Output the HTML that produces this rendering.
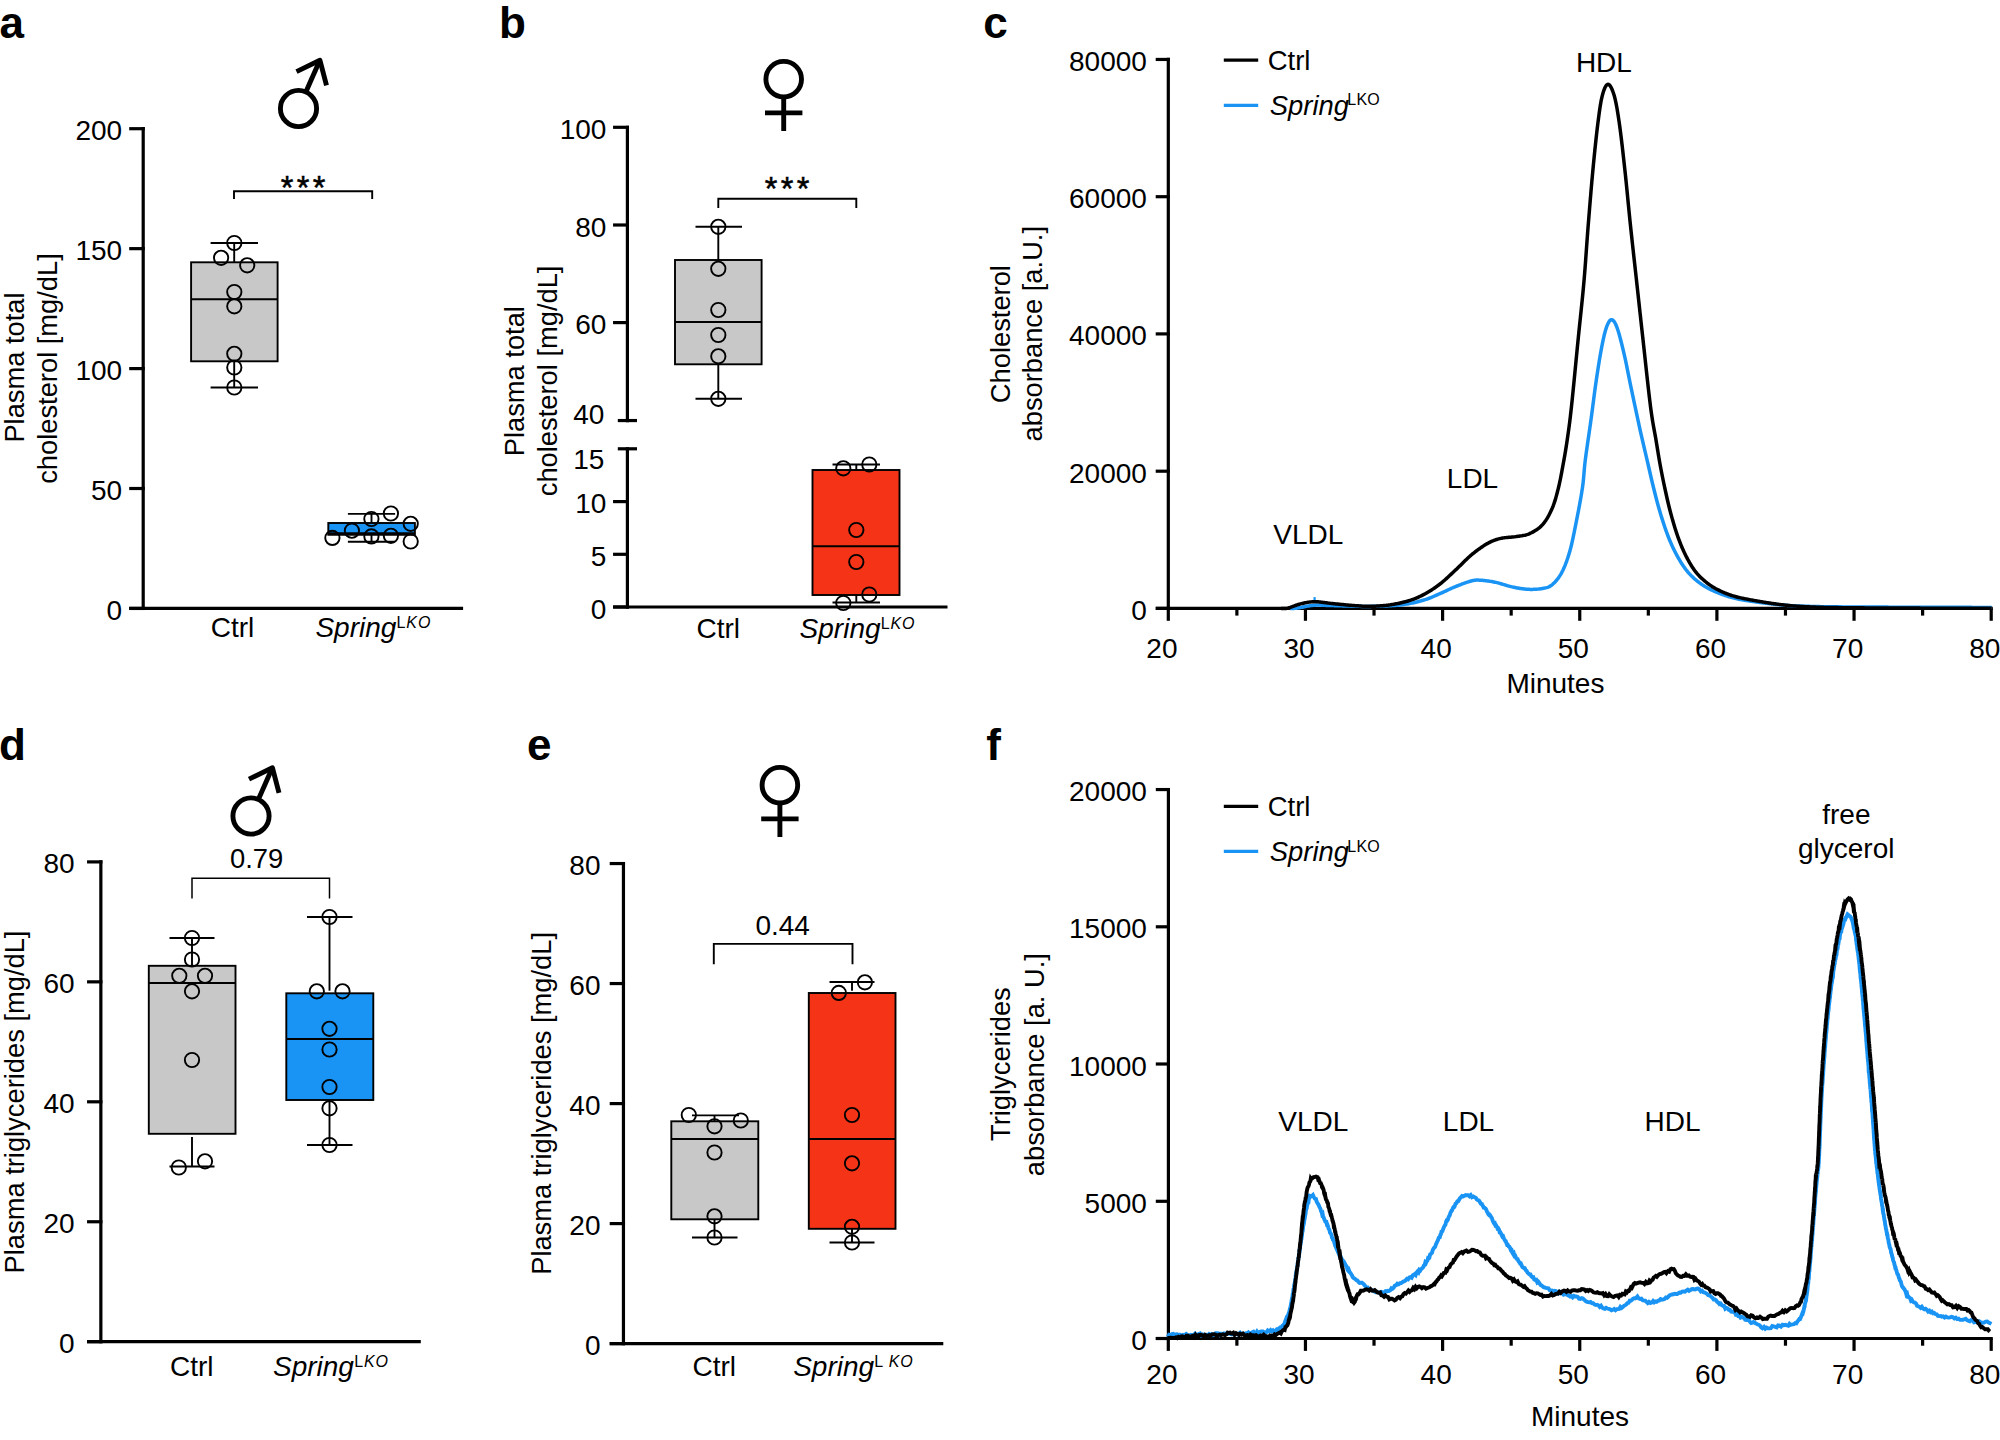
<!DOCTYPE html>
<html lang="en">
<head>
<meta charset="utf-8">
<title>Plasma lipids in Ctrl and Spring LKO mice</title>
<style>
html,body{margin:0;padding:0;background:#fff;}
body{width:2000px;height:1440px;overflow:hidden;}
svg{display:block;}
svg text{font-family:"Liberation Sans",sans-serif;fill:#000;}
</style>
</head>
<body>
<svg width="2000" height="1440" viewBox="0 0 2000 1440">
<rect x="0" y="0" width="2000" height="1440" fill="#fff"/>
<text x="-0.4" y="37.9" font-size="44" text-anchor="start" font-weight="bold">a</text>
<g fill="none" stroke="#000" stroke-width="4.9">
<circle cx="298.5" cy="108.5" r="18.1"/>
<path d="M305.85 91.9 L319.3 61.5"/>
<path d="M296.5 71.6 L319.9 60.2 L326.5 85.4" stroke-linejoin="round"/>
</g>
<line x1="143.2" y1="127.1" x2="143.2" y2="610.05" stroke="#000" stroke-width="3.2" stroke-linecap="butt"/>
<line x1="129.2" y1="128.7" x2="144.8" y2="128.7" stroke="#000" stroke-width="3.2" stroke-linecap="butt"/>
<text x="122.1" y="140.2" font-size="28" text-anchor="end">200</text>
<line x1="129.2" y1="248.65" x2="144.8" y2="248.65" stroke="#000" stroke-width="3.2" stroke-linecap="butt"/>
<text x="122.1" y="260.15" font-size="28" text-anchor="end">150</text>
<line x1="129.2" y1="368.6" x2="144.8" y2="368.6" stroke="#000" stroke-width="3.2" stroke-linecap="butt"/>
<text x="122.1" y="380.1" font-size="28" text-anchor="end">100</text>
<line x1="129.2" y1="488.5" x2="144.8" y2="488.5" stroke="#000" stroke-width="3.2" stroke-linecap="butt"/>
<text x="122.1" y="500" font-size="28" text-anchor="end">50</text>
<line x1="129.2" y1="608.45" x2="144.8" y2="608.45" stroke="#000" stroke-width="3.2" stroke-linecap="butt"/>
<text x="122.1" y="619.95" font-size="28" text-anchor="end">0</text>
<line x1="129.2" y1="608.45" x2="463.1" y2="608.45" stroke="#000" stroke-width="3.2" stroke-linecap="butt"/>
<text x="24" y="367.5" font-size="27.3" text-anchor="middle" transform="rotate(-90 24 367.5)">Plasma total</text>
<text x="57.2" y="368.5" font-size="27.3" text-anchor="middle" transform="rotate(-90 57.2 368.5)">cholesterol [mg/dL]</text>
<path d="M234 199 V191.3 H372.2 V199" fill="none" stroke="#000" stroke-width="1.9"/>
<text x="304.7" y="198.9" font-size="32.5" text-anchor="middle" letter-spacing="3.25" stroke="#000" stroke-width="0.5">***</text>
<line x1="234.2" y1="243" x2="234.2" y2="262.3" stroke="#000" stroke-width="1.9" stroke-linecap="butt"/>
<line x1="234.2" y1="361.3" x2="234.2" y2="387.5" stroke="#000" stroke-width="1.9" stroke-linecap="butt"/>
<line x1="210.6" y1="243" x2="258" y2="243" stroke="#000" stroke-width="1.9" stroke-linecap="butt"/>
<line x1="210.6" y1="387.5" x2="258" y2="387.5" stroke="#000" stroke-width="1.9" stroke-linecap="butt"/>
<rect x="191.1" y="262.3" width="86.5" height="99" fill="#c8c8c8" stroke="#000" stroke-width="1.9"/>
<line x1="191.1" y1="299.3" x2="277.6" y2="299.3" stroke="#000" stroke-width="1.9" stroke-linecap="butt"/>
<circle cx="234.3" cy="243" r="7.15" fill="none" stroke="#000" stroke-width="1.9"/>
<circle cx="221.1" cy="257.8" r="7.15" fill="none" stroke="#000" stroke-width="1.9"/>
<circle cx="247.2" cy="265.3" r="7.15" fill="none" stroke="#000" stroke-width="1.9"/>
<circle cx="234.3" cy="292" r="7.15" fill="none" stroke="#000" stroke-width="1.9"/>
<circle cx="234.3" cy="306.3" r="7.15" fill="none" stroke="#000" stroke-width="1.9"/>
<circle cx="234.3" cy="353.8" r="7.15" fill="none" stroke="#000" stroke-width="1.9"/>
<circle cx="234.3" cy="367.5" r="7.15" fill="none" stroke="#000" stroke-width="1.9"/>
<circle cx="234.3" cy="387.5" r="7.15" fill="none" stroke="#000" stroke-width="1.9"/>
<line x1="371.5" y1="513.9" x2="371.5" y2="523" stroke="#000" stroke-width="1.9" stroke-linecap="butt"/>
<line x1="371.5" y1="534.8" x2="371.5" y2="541.8" stroke="#000" stroke-width="1.9" stroke-linecap="butt"/>
<line x1="347.9" y1="513.9" x2="395.1" y2="513.9" stroke="#000" stroke-width="1.9" stroke-linecap="butt"/>
<line x1="347.9" y1="541.8" x2="395.1" y2="541.8" stroke="#000" stroke-width="1.9" stroke-linecap="butt"/>
<rect x="328.3" y="523" width="86.6" height="11.8" fill="#1994f4" stroke="#000" stroke-width="1.9"/>
<line x1="328.3" y1="533.2" x2="414.9" y2="533.2" stroke="#000" stroke-width="1.9" stroke-linecap="butt"/>
<circle cx="390.9" cy="513.5" r="7.15" fill="none" stroke="#000" stroke-width="1.9"/>
<circle cx="371.4" cy="519" r="7.15" fill="none" stroke="#000" stroke-width="1.9"/>
<circle cx="410.7" cy="523.8" r="7.15" fill="none" stroke="#000" stroke-width="1.9"/>
<circle cx="351.9" cy="530.7" r="7.15" fill="none" stroke="#000" stroke-width="1.9"/>
<circle cx="332.4" cy="537.9" r="7.15" fill="none" stroke="#000" stroke-width="1.9"/>
<circle cx="371.4" cy="536.4" r="7.15" fill="none" stroke="#000" stroke-width="1.9"/>
<circle cx="390.9" cy="535.8" r="7.15" fill="none" stroke="#000" stroke-width="1.9"/>
<circle cx="410.7" cy="541.5" r="7.15" fill="none" stroke="#000" stroke-width="1.9"/>
<text x="232.5" y="636.8" font-size="28" text-anchor="middle">Ctrl</text>
<text x="315.4" y="636.8" font-size="28" text-anchor="start"><tspan font-style="italic">Spring</tspan><tspan font-size="16" dy="-9.1" dx="0.2" letter-spacing="0.9">L</tspan><tspan font-size="16" font-style="italic" letter-spacing="0.9">KO</tspan></text>
<text x="499.1" y="37.9" font-size="44" text-anchor="start" font-weight="bold">b</text>
<g fill="none" stroke="#000" stroke-width="4.9">
<circle cx="783.7" cy="79.2" r="17.8"/>
<path d="M783.7 97 V131"/>
<path d="M765 112.9 H802.4"/>
</g>
<line x1="627.4" y1="125.7" x2="627.4" y2="422.15" stroke="#000" stroke-width="3.2" stroke-linecap="butt"/>
<line x1="613.05" y1="127.3" x2="629" y2="127.3" stroke="#000" stroke-width="3.2" stroke-linecap="butt"/>
<text x="606.4" y="138.8" font-size="28" text-anchor="end">100</text>
<line x1="613.05" y1="225" x2="629" y2="225" stroke="#000" stroke-width="3.2" stroke-linecap="butt"/>
<text x="606.4" y="236.5" font-size="28" text-anchor="end">80</text>
<line x1="613.05" y1="322.6" x2="629" y2="322.6" stroke="#000" stroke-width="3.2" stroke-linecap="butt"/>
<text x="606.4" y="334.1" font-size="28" text-anchor="end">60</text>
<line x1="617.8" y1="420.55" x2="637" y2="420.55" stroke="#000" stroke-width="3.2" stroke-linecap="butt"/>
<text x="604.4" y="423.9" font-size="28" text-anchor="end">40</text>
<line x1="627.4" y1="447.2" x2="627.4" y2="608.6" stroke="#000" stroke-width="3.2" stroke-linecap="butt"/>
<line x1="617.8" y1="448.8" x2="637" y2="448.8" stroke="#000" stroke-width="3.2" stroke-linecap="butt"/>
<text x="604.4" y="468.9" font-size="28" text-anchor="end">15</text>
<line x1="613.05" y1="501.6" x2="629" y2="501.6" stroke="#000" stroke-width="3.2" stroke-linecap="butt"/>
<text x="606.4" y="513.1" font-size="28" text-anchor="end">10</text>
<line x1="613.05" y1="554.3" x2="629" y2="554.3" stroke="#000" stroke-width="3.2" stroke-linecap="butt"/>
<text x="606.4" y="565.8" font-size="28" text-anchor="end">5</text>
<line x1="613.05" y1="607" x2="629" y2="607" stroke="#000" stroke-width="3.2" stroke-linecap="butt"/>
<text x="606.4" y="618.5" font-size="28" text-anchor="end">0</text>
<line x1="613.05" y1="607" x2="947.5" y2="607" stroke="#000" stroke-width="3.2" stroke-linecap="butt"/>
<text x="523.9" y="381.2" font-size="27.3" text-anchor="middle" transform="rotate(-90 523.9 381.2)">Plasma total</text>
<text x="557.5" y="380.9" font-size="27.3" text-anchor="middle" transform="rotate(-90 557.5 380.9)">cholesterol [mg/dL]</text>
<path d="M718.3 208 V198.8 H856.3 V208" fill="none" stroke="#000" stroke-width="1.9"/>
<text x="788.7" y="200.1" font-size="32.5" text-anchor="middle" letter-spacing="3.25" stroke="#000" stroke-width="0.5">***</text>
<line x1="718.3" y1="226.8" x2="718.3" y2="260" stroke="#000" stroke-width="1.9" stroke-linecap="butt"/>
<line x1="718.3" y1="364.3" x2="718.3" y2="398.8" stroke="#000" stroke-width="1.9" stroke-linecap="butt"/>
<line x1="695.5" y1="226.8" x2="742" y2="226.8" stroke="#000" stroke-width="1.9" stroke-linecap="butt"/>
<line x1="695.5" y1="398.8" x2="742" y2="398.8" stroke="#000" stroke-width="1.9" stroke-linecap="butt"/>
<rect x="675" y="260" width="86.6" height="104.3" fill="#c8c8c8" stroke="#000" stroke-width="1.9"/>
<line x1="675" y1="322" x2="761.6" y2="322" stroke="#000" stroke-width="1.9" stroke-linecap="butt"/>
<circle cx="718.3" cy="226.8" r="7.15" fill="none" stroke="#000" stroke-width="1.9"/>
<circle cx="718.3" cy="268.8" r="7.15" fill="none" stroke="#000" stroke-width="1.9"/>
<circle cx="718.3" cy="310" r="7.15" fill="none" stroke="#000" stroke-width="1.9"/>
<circle cx="718.3" cy="335" r="7.15" fill="none" stroke="#000" stroke-width="1.9"/>
<circle cx="718.3" cy="356.3" r="7.15" fill="none" stroke="#000" stroke-width="1.9"/>
<circle cx="718.3" cy="398.8" r="7.15" fill="none" stroke="#000" stroke-width="1.9"/>
<line x1="856.3" y1="464.5" x2="856.3" y2="470" stroke="#000" stroke-width="1.9" stroke-linecap="butt"/>
<line x1="856.3" y1="595" x2="856.3" y2="602.5" stroke="#000" stroke-width="1.9" stroke-linecap="butt"/>
<line x1="832.5" y1="464.5" x2="880" y2="464.5" stroke="#000" stroke-width="1.9" stroke-linecap="butt"/>
<line x1="832.5" y1="602.5" x2="880" y2="602.5" stroke="#000" stroke-width="1.9" stroke-linecap="butt"/>
<rect x="812.5" y="470" width="87" height="125" fill="#f53317" stroke="#000" stroke-width="1.9"/>
<line x1="812.5" y1="546.3" x2="899.5" y2="546.3" stroke="#000" stroke-width="1.9" stroke-linecap="butt"/>
<circle cx="843.3" cy="468.3" r="7.15" fill="none" stroke="#000" stroke-width="1.9"/>
<circle cx="869.3" cy="464.5" r="7.15" fill="none" stroke="#000" stroke-width="1.9"/>
<circle cx="856.3" cy="530" r="7.15" fill="none" stroke="#000" stroke-width="1.9"/>
<circle cx="856.3" cy="562" r="7.15" fill="none" stroke="#000" stroke-width="1.9"/>
<circle cx="869.3" cy="594.5" r="7.15" fill="none" stroke="#000" stroke-width="1.9"/>
<circle cx="843.3" cy="603" r="7.15" fill="none" stroke="#000" stroke-width="1.9"/>
<text x="718.3" y="637.8" font-size="28" text-anchor="middle">Ctrl</text>
<text x="799.6" y="637.8" font-size="28" text-anchor="start"><tspan font-style="italic">Spring</tspan><tspan font-size="16" dy="-9.1" dx="0.2" letter-spacing="0.9">L</tspan><tspan font-size="16" font-style="italic" letter-spacing="0.9">KO</tspan></text>
<text x="983.3" y="37.9" font-size="44" text-anchor="start" font-weight="bold">c</text>
<line x1="1168.3" y1="57.85" x2="1168.3" y2="610" stroke="#000" stroke-width="3.2" stroke-linecap="butt"/>
<line x1="1155.7" y1="59.45" x2="1169.9" y2="59.45" stroke="#000" stroke-width="3.2" stroke-linecap="butt"/>
<text x="1146.9" y="70.95" font-size="28" text-anchor="end">80000</text>
<line x1="1155.7" y1="196.7" x2="1169.9" y2="196.7" stroke="#000" stroke-width="3.2" stroke-linecap="butt"/>
<text x="1146.9" y="208.2" font-size="28" text-anchor="end">60000</text>
<line x1="1155.7" y1="333.9" x2="1169.9" y2="333.9" stroke="#000" stroke-width="3.2" stroke-linecap="butt"/>
<text x="1146.9" y="345.4" font-size="28" text-anchor="end">40000</text>
<line x1="1155.7" y1="471.2" x2="1169.9" y2="471.2" stroke="#000" stroke-width="3.2" stroke-linecap="butt"/>
<text x="1146.9" y="482.7" font-size="28" text-anchor="end">20000</text>
<line x1="1155.7" y1="608.4" x2="1169.9" y2="608.4" stroke="#000" stroke-width="3.2" stroke-linecap="butt"/>
<text x="1146.9" y="619.9" font-size="28" text-anchor="end">0</text>
<line x1="1155.8" y1="608.4" x2="1992.8" y2="608.4" stroke="#000" stroke-width="3.2" stroke-linecap="butt"/>
<line x1="1168.3" y1="608.4" x2="1168.3" y2="620.8" stroke="#000" stroke-width="3.2" stroke-linecap="butt"/>
<line x1="1236.88" y1="608.4" x2="1236.88" y2="615.6" stroke="#000" stroke-width="3.2" stroke-linecap="butt"/>
<line x1="1305.45" y1="608.4" x2="1305.45" y2="620.8" stroke="#000" stroke-width="3.2" stroke-linecap="butt"/>
<line x1="1374.02" y1="608.4" x2="1374.02" y2="615.6" stroke="#000" stroke-width="3.2" stroke-linecap="butt"/>
<line x1="1442.6" y1="608.4" x2="1442.6" y2="620.8" stroke="#000" stroke-width="3.2" stroke-linecap="butt"/>
<line x1="1511.17" y1="608.4" x2="1511.17" y2="615.6" stroke="#000" stroke-width="3.2" stroke-linecap="butt"/>
<line x1="1579.75" y1="608.4" x2="1579.75" y2="620.8" stroke="#000" stroke-width="3.2" stroke-linecap="butt"/>
<line x1="1648.32" y1="608.4" x2="1648.32" y2="615.6" stroke="#000" stroke-width="3.2" stroke-linecap="butt"/>
<line x1="1716.9" y1="608.4" x2="1716.9" y2="620.8" stroke="#000" stroke-width="3.2" stroke-linecap="butt"/>
<line x1="1785.47" y1="608.4" x2="1785.47" y2="615.6" stroke="#000" stroke-width="3.2" stroke-linecap="butt"/>
<line x1="1854.05" y1="608.4" x2="1854.05" y2="620.8" stroke="#000" stroke-width="3.2" stroke-linecap="butt"/>
<line x1="1922.62" y1="608.4" x2="1922.62" y2="615.6" stroke="#000" stroke-width="3.2" stroke-linecap="butt"/>
<line x1="1991.2" y1="608.4" x2="1991.2" y2="620.8" stroke="#000" stroke-width="3.2" stroke-linecap="butt"/>
<polyline points="1290,608.5 1290.7,608.49 1291.69,608.49 1292.84,608.46 1294,608.4 1294.77,608.34 1295.43,608.29 1296.2,608.21 1297.32,608.06 1299,607.8 1299.72,607.68 1300.51,607.53 1301.37,607.36 1302.28,607.17 1303.25,606.97 1304.27,606.76 1305.32,606.55 1306.41,606.33 1307.52,606.12 1308.66,605.92 1309.81,605.73 1310.96,605.56 1312.12,605.41 1313.26,605.29 1314.4,605.2 1315.32,605.15 1316.21,605.11 1317.08,605.09 1317.93,605.08 1318.78,605.08 1319.63,605.1 1320.49,605.12 1321.36,605.15 1322.26,605.19 1323.2,605.23 1324.17,605.28 1325.19,605.33 1326.27,605.38 1327.42,605.43 1328.63,605.48 1329.93,605.52 1331.32,605.56 1332.8,605.6 1333.58,605.62 1334.4,605.64 1335.24,605.66 1336.11,605.68 1337,605.71 1337.92,605.74 1338.87,605.77 1339.83,605.8 1340.82,605.83 1341.82,605.86 1342.84,605.89 1343.88,605.93 1344.93,605.96 1346,605.99 1347.07,606.03 1348.16,606.06 1349.25,606.09 1350.35,606.12 1351.46,606.16 1352.56,606.19 1353.68,606.22 1354.79,606.24 1355.9,606.27 1357.01,606.3 1358.11,606.32 1359.21,606.34 1360.31,606.36 1361.39,606.38 1362.47,606.39 1363.53,606.4 1364.58,606.41 1365.62,606.41 1366.64,606.42 1367.65,606.41 1368.63,606.41 1369.6,606.4 1370.67,606.39 1371.75,606.37 1372.82,606.36 1373.9,606.34 1374.97,606.32 1376.03,606.29 1377.1,606.27 1378.16,606.24 1379.22,606.22 1380.28,606.18 1381.33,606.15 1382.37,606.12 1383.41,606.08 1384.45,606.04 1385.48,606 1386.5,605.95 1387.52,605.9 1388.52,605.85 1389.52,605.8 1390.51,605.74 1391.5,605.68 1392.47,605.62 1393.43,605.55 1394.39,605.48 1395.33,605.41 1396.26,605.33 1397.18,605.25 1398.09,605.17 1398.99,605.08 1399.87,604.99 1400.74,604.9 1401.6,604.8 1402.82,604.65 1404.02,604.49 1405.19,604.32 1406.34,604.14 1407.47,603.96 1408.57,603.76 1409.66,603.56 1410.72,603.36 1411.77,603.14 1412.79,602.92 1413.8,602.7 1414.79,602.47 1415.77,602.24 1416.73,602 1417.68,601.76 1418.61,601.51 1419.53,601.26 1420.45,601.01 1421.35,600.76 1422.24,600.51 1423.12,600.25 1424,600 1425.11,599.67 1426.18,599.33 1427.21,598.98 1428.21,598.62 1429.17,598.26 1430.12,597.89 1431.04,597.52 1431.95,597.14 1432.85,596.76 1433.73,596.37 1434.61,595.98 1435.49,595.59 1436.37,595.19 1437.26,594.8 1438.16,594.4 1439.07,594 1440,593.6 1440.94,593.19 1441.88,592.78 1442.82,592.36 1443.76,591.93 1444.71,591.49 1445.65,591.05 1446.59,590.61 1447.53,590.17 1448.47,589.73 1449.41,589.29 1450.35,588.86 1451.29,588.42 1452.24,588 1453.18,587.59 1454.12,587.18 1455.06,586.78 1456,586.4 1457.01,586 1458.04,585.59 1459.09,585.18 1460.15,584.77 1461.21,584.36 1462.28,583.96 1463.34,583.56 1464.4,583.18 1465.44,582.81 1466.47,582.46 1467.47,582.12 1468.45,581.8 1469.4,581.51 1470.31,581.25 1471.18,581.01 1472,580.8 1473.32,580.51 1474.47,580.3 1475.5,580.16 1476.44,580.09 1477.36,580.06 1478.28,580.09 1479.27,580.14 1480.36,580.21 1481.6,580.3 1482.48,580.36 1483.39,580.44 1484.34,580.53 1485.32,580.64 1486.32,580.76 1487.35,580.89 1488.4,581.04 1489.46,581.2 1490.54,581.37 1491.63,581.55 1492.72,581.74 1493.82,581.95 1494.91,582.17 1496,582.4 1496.96,582.62 1497.92,582.86 1498.9,583.13 1499.89,583.41 1500.88,583.7 1501.88,584 1502.89,584.32 1503.9,584.63 1504.91,584.95 1505.93,585.26 1506.95,585.57 1507.96,585.87 1508.98,586.15 1509.99,586.42 1511,586.67 1512,586.9 1513,587.11 1514.01,587.32 1515.02,587.53 1516.04,587.72 1517.05,587.91 1518.07,588.09 1519.09,588.27 1520.1,588.43 1521.11,588.58 1522.12,588.73 1523.12,588.86 1524.11,588.97 1525.1,589.08 1526.08,589.17 1527.04,589.24 1528,589.3 1529.09,589.35 1530.18,589.38 1531.28,589.39 1532.37,589.39 1533.46,589.37 1534.54,589.33 1535.6,589.28 1536.65,589.21 1537.68,589.13 1538.68,589.03 1539.66,588.92 1540.61,588.79 1541.52,588.65 1542.4,588.5 1543.55,588.28 1544.63,588.08 1545.63,587.86 1546.59,587.63 1547.5,587.35 1548.39,587.02 1549.27,586.61 1550.16,586.12 1551.06,585.52 1552,584.8 1552.64,584.26 1553.29,583.68 1553.95,583.07 1554.6,582.42 1555.26,581.74 1555.92,581.02 1556.57,580.26 1557.23,579.47 1557.88,578.63 1558.52,577.76 1559.15,576.85 1559.78,575.9 1560.4,574.9 1561.01,573.87 1561.6,572.8 1562,572.04 1562.39,571.27 1562.79,570.48 1563.17,569.66 1563.56,568.83 1563.94,567.98 1564.32,567.11 1564.69,566.22 1565.07,565.31 1565.43,564.39 1565.8,563.45 1566.16,562.49 1566.52,561.52 1566.88,560.52 1567.23,559.51 1567.58,558.49 1567.92,557.45 1568.26,556.39 1568.6,555.31 1568.94,554.22 1569.27,553.12 1569.6,552 1569.85,551.14 1570.09,550.27 1570.33,549.38 1570.56,548.49 1570.8,547.59 1571.03,546.67 1571.26,545.75 1571.48,544.81 1571.7,543.87 1571.93,542.91 1572.14,541.95 1572.36,540.97 1572.58,539.99 1572.79,539 1573.01,538 1573.22,536.99 1573.43,535.97 1573.64,534.95 1573.86,533.92 1574.07,532.88 1574.28,531.83 1574.49,530.77 1574.7,529.71 1574.92,528.64 1575.13,527.57 1575.35,526.48 1575.56,525.4 1575.78,524.3 1576,523.2 1576.18,522.28 1576.37,521.34 1576.56,520.39 1576.75,519.42 1576.94,518.44 1577.14,517.45 1577.34,516.45 1577.53,515.44 1577.73,514.43 1577.93,513.4 1578.13,512.37 1578.33,511.33 1578.53,510.28 1578.73,509.24 1578.93,508.18 1579.12,507.13 1579.32,506.08 1579.52,505.02 1579.71,503.97 1579.9,502.92 1580.09,501.87 1580.28,500.82 1580.46,499.78 1580.65,498.75 1580.83,497.72 1581,496.7 1581.18,495.69 1581.34,494.68 1581.51,493.69 1581.67,492.71 1581.83,491.74 1581.98,490.78 1582.12,489.84 1582.26,488.91 1582.4,488 1582.56,486.89 1582.71,485.8 1582.85,484.75 1582.98,483.72 1583.09,482.71 1583.21,481.72 1583.31,480.75 1583.41,479.79 1583.5,478.85 1583.59,477.92 1583.67,476.99 1583.75,476.07 1583.83,475.15 1583.91,474.23 1583.98,473.31 1584.06,472.38 1584.14,471.45 1584.22,470.51 1584.3,469.55 1584.38,468.58 1584.47,467.6 1584.57,466.59 1584.67,465.56 1584.78,464.51 1584.9,463.43 1585.02,462.32 1585.16,461.18 1585.3,460 1585.41,459.14 1585.52,458.26 1585.64,457.37 1585.76,456.47 1585.88,455.56 1586,454.64 1586.13,453.71 1586.26,452.77 1586.39,451.82 1586.52,450.87 1586.66,449.9 1586.8,448.93 1586.94,447.94 1587.08,446.96 1587.22,445.96 1587.37,444.96 1587.51,443.95 1587.66,442.94 1587.81,441.92 1587.96,440.89 1588.11,439.87 1588.26,438.83 1588.41,437.8 1588.56,436.76 1588.71,435.72 1588.86,434.68 1589.02,433.63 1589.17,432.59 1589.32,431.54 1589.47,430.49 1589.62,429.44 1589.77,428.4 1589.92,427.35 1590.07,426.3 1590.22,425.26 1590.37,424.21 1590.51,423.17 1590.66,422.14 1590.8,421.1 1590.93,420.14 1591.06,419.17 1591.2,418.19 1591.33,417.2 1591.46,416.21 1591.6,415.22 1591.73,414.21 1591.86,413.21 1592,412.2 1592.13,411.18 1592.26,410.17 1592.4,409.14 1592.53,408.12 1592.66,407.1 1592.8,406.07 1592.93,405.04 1593.06,404.01 1593.2,402.98 1593.33,401.95 1593.47,400.93 1593.6,399.9 1593.73,398.87 1593.87,397.85 1594,396.83 1594.14,395.81 1594.27,394.8 1594.4,393.79 1594.54,392.78 1594.67,391.78 1594.8,390.78 1594.94,389.79 1595.07,388.81 1595.2,387.83 1595.34,386.86 1595.47,385.9 1595.6,384.94 1595.74,383.99 1595.87,383.06 1596,382.13 1596.14,381.21 1596.27,380.3 1596.4,379.4 1596.57,378.27 1596.74,377.13 1596.91,376 1597.08,374.88 1597.25,373.76 1597.42,372.65 1597.59,371.54 1597.76,370.43 1597.93,369.34 1598.1,368.25 1598.27,367.16 1598.44,366.09 1598.61,365.02 1598.78,363.96 1598.95,362.91 1599.12,361.87 1599.28,360.84 1599.45,359.82 1599.62,358.81 1599.79,357.82 1599.96,356.83 1600.12,355.86 1600.29,354.9 1600.45,353.95 1600.62,353.02 1600.78,352.1 1600.94,351.2 1601.11,350.31 1601.27,349.43 1601.43,348.57 1601.59,347.73 1601.74,346.91 1601.9,346.1 1602.17,344.73 1602.43,343.41 1602.69,342.13 1602.95,340.89 1603.21,339.69 1603.46,338.52 1603.71,337.4 1603.96,336.31 1604.21,335.27 1604.45,334.26 1604.7,333.28 1604.95,332.34 1605.19,331.44 1605.44,330.56 1605.69,329.73 1605.94,328.92 1606.19,328.15 1606.44,327.41 1606.7,326.7 1607.31,325.13 1607.92,323.72 1608.54,322.49 1609.16,321.46 1609.78,320.65 1610.41,320.08 1611.05,319.75 1611.7,319.7 1612.22,319.84 1612.74,320.11 1613.27,320.52 1613.79,321.09 1614.33,321.82 1614.87,322.71 1615.42,323.78 1616,325.03 1616.59,326.47 1617.2,328.1 1617.43,328.76 1617.67,329.46 1617.91,330.2 1618.16,330.97 1618.41,331.77 1618.66,332.6 1618.91,333.47 1619.17,334.36 1619.43,335.28 1619.69,336.22 1619.95,337.19 1620.21,338.17 1620.48,339.18 1620.75,340.2 1621.01,341.24 1621.28,342.3 1621.55,343.37 1621.82,344.44 1622.09,345.53 1622.35,346.63 1622.62,347.73 1622.89,348.84 1623.15,349.95 1623.42,351.07 1623.68,352.18 1623.94,353.29 1624.2,354.4 1624.4,355.28 1624.61,356.17 1624.81,357.07 1625.01,357.97 1625.21,358.88 1625.41,359.8 1625.6,360.72 1625.8,361.65 1626,362.59 1626.19,363.54 1626.39,364.49 1626.59,365.44 1626.78,366.4 1626.98,367.37 1627.17,368.35 1627.37,369.33 1627.57,370.31 1627.77,371.3 1627.96,372.3 1628.16,373.3 1628.36,374.31 1628.57,375.32 1628.77,376.34 1628.97,377.36 1629.18,378.38 1629.38,379.41 1629.59,380.45 1629.8,381.49 1630.01,382.53 1630.22,383.58 1630.44,384.63 1630.66,385.68 1630.88,386.74 1631.1,387.8 1631.3,388.74 1631.5,389.7 1631.71,390.68 1631.92,391.68 1632.13,392.7 1632.35,393.74 1632.58,394.79 1632.8,395.85 1633.03,396.93 1633.26,398.01 1633.49,399.1 1633.72,400.2 1633.96,401.31 1634.2,402.42 1634.43,403.53 1634.67,404.64 1634.9,405.75 1635.14,406.85 1635.38,407.96 1635.61,409.05 1635.84,410.14 1636.07,411.22 1636.3,412.29 1636.53,413.35 1636.75,414.4 1636.97,415.43 1637.19,416.44 1637.4,417.43 1637.61,418.41 1637.82,419.36 1638.02,420.29 1638.21,421.19 1638.4,422.07 1638.58,422.92 1638.76,423.74 1638.93,424.53 1639.09,425.29 1639.25,426.01 1639.4,426.7 1639.8,428.53 1640.13,430.05 1640.4,431.3 1640.63,432.33 1640.82,433.19 1640.99,433.94 1641.15,434.61 1641.3,435.27 1641.46,435.96 1641.64,436.72 1641.85,437.62 1642.1,438.7 1642.4,440 1642.58,440.8 1642.78,441.63 1642.98,442.49 1643.18,443.38 1643.4,444.3 1643.62,445.25 1643.84,446.22 1644.07,447.21 1644.31,448.22 1644.55,449.24 1644.79,450.28 1645.04,451.33 1645.29,452.39 1645.54,453.46 1645.79,454.53 1646.04,455.6 1646.29,456.68 1646.54,457.75 1646.79,458.82 1647.04,459.88 1647.28,460.93 1647.53,461.97 1647.76,462.99 1648,464 1648.23,465 1648.46,466 1648.69,467 1648.92,468 1649.15,469 1649.38,470 1649.61,471 1649.84,472 1650.06,473 1650.29,474 1650.52,475 1650.75,476 1650.98,477 1651.21,478 1651.44,479 1651.67,480 1651.91,481 1652.14,482 1652.38,483 1652.62,484 1652.86,485 1653.11,486 1653.35,487 1653.6,488 1653.85,489 1654.1,490 1654.35,491 1654.6,492 1654.85,493 1655.11,494 1655.36,495 1655.61,496 1655.87,497 1656.13,498 1656.39,499 1656.65,500 1656.91,501 1657.18,502 1657.45,503 1657.72,504 1657.99,505 1658.27,506 1658.55,507 1658.83,508 1659.12,509 1659.41,510 1659.7,511 1660,512 1660.29,512.96 1660.58,513.93 1660.88,514.91 1661.18,515.89 1661.48,516.88 1661.79,517.87 1662.1,518.86 1662.41,519.85 1662.73,520.84 1663.05,521.83 1663.37,522.82 1663.69,523.81 1664.01,524.79 1664.34,525.77 1664.67,526.75 1664.99,527.71 1665.33,528.68 1665.66,529.63 1665.99,530.57 1666.32,531.51 1666.66,532.43 1666.99,533.34 1667.33,534.24 1667.66,535.13 1668,536 1668.4,537.02 1668.8,538.03 1669.2,539.02 1669.6,540 1670.01,540.97 1670.41,541.93 1670.81,542.87 1671.22,543.81 1671.63,544.73 1672.04,545.65 1672.46,546.55 1672.87,547.45 1673.29,548.33 1673.72,549.21 1674.15,550.09 1674.58,550.95 1675.01,551.81 1675.45,552.67 1675.9,553.52 1676.35,554.36 1676.8,555.2 1677.31,556.12 1677.82,557.04 1678.33,557.95 1678.84,558.85 1679.36,559.74 1679.88,560.63 1680.41,561.5 1680.94,562.37 1681.48,563.23 1682.02,564.07 1682.57,564.91 1683.12,565.74 1683.68,566.55 1684.25,567.36 1684.83,568.15 1685.41,568.93 1686,569.7 1686.59,570.46 1687.2,571.2 1687.89,572.02 1688.58,572.81 1689.27,573.6 1689.98,574.37 1690.69,575.12 1691.41,575.86 1692.14,576.59 1692.88,577.3 1693.62,578 1694.38,578.69 1695.15,579.36 1695.93,580.03 1696.72,580.68 1697.52,581.33 1698.33,581.96 1699.16,582.58 1700,583.2 1700.8,583.77 1701.62,584.33 1702.44,584.88 1703.28,585.42 1704.12,585.94 1704.98,586.46 1705.84,586.97 1706.72,587.46 1707.6,587.95 1708.49,588.43 1709.4,588.9 1710.31,589.36 1711.23,589.82 1712.17,590.27 1713.11,590.71 1714.06,591.15 1715.03,591.58 1716,592 1716.89,592.38 1717.78,592.75 1718.69,593.12 1719.61,593.48 1720.54,593.84 1721.47,594.19 1722.42,594.53 1723.37,594.87 1724.33,595.2 1725.3,595.53 1726.27,595.85 1727.25,596.16 1728.23,596.47 1729.22,596.77 1730.21,597.06 1731.21,597.34 1732.2,597.62 1733.2,597.89 1734.2,598.15 1735.2,598.4 1736.15,598.63 1737.11,598.85 1738.06,599.06 1739.02,599.26 1739.97,599.45 1740.93,599.63 1741.9,599.8 1742.86,599.97 1743.83,600.13 1744.81,600.29 1745.79,600.44 1746.78,600.59 1747.77,600.74 1748.77,600.89 1749.78,601.03 1750.79,601.17 1751.81,601.31 1752.85,601.46 1753.89,601.6 1754.94,601.75 1756,601.9 1756.94,602.03 1757.89,602.17 1758.85,602.3 1759.81,602.44 1760.79,602.57 1761.77,602.7 1762.77,602.83 1763.76,602.97 1764.77,603.1 1765.77,603.23 1766.78,603.35 1767.8,603.48 1768.82,603.61 1769.84,603.73 1770.86,603.85 1771.88,603.97 1772.9,604.08 1773.92,604.19 1774.95,604.3 1775.96,604.41 1776.98,604.51 1777.99,604.61 1779,604.71 1780,604.8 1780.99,604.89 1781.95,604.97 1782.89,605.05 1783.81,605.13 1784.73,605.2 1785.62,605.27 1786.52,605.34 1787.41,605.4 1788.3,605.47 1789.19,605.53 1790.09,605.58 1791,605.64 1791.92,605.69 1792.87,605.74 1793.83,605.79 1794.81,605.84 1795.83,605.89 1796.88,605.93 1797.96,605.98 1799.07,606.02 1800.23,606.07 1801.44,606.11 1802.69,606.16 1804,606.2 1804.79,606.23 1805.57,606.25 1806.34,606.28 1807.1,606.3 1807.85,606.32 1808.6,606.35 1809.34,606.37 1810.08,606.39 1810.82,606.41 1811.56,606.43 1812.31,606.45 1813.06,606.47 1813.82,606.49 1814.59,606.51 1815.37,606.53 1816.16,606.54 1816.97,606.56 1817.79,606.58 1818.64,606.6 1819.5,606.61 1820.39,606.63 1821.3,606.64 1822.23,606.66 1823.2,606.68 1824.2,606.69 1825.22,606.71 1826.28,606.72 1827.38,606.73 1828.51,606.75 1829.69,606.76 1830.9,606.78 1832.16,606.79 1833.46,606.8 1834.81,606.82 1836.21,606.83 1837.66,606.85 1839.16,606.86 1840.72,606.87 1842.33,606.89 1844,606.9 1844.72,606.91 1845.45,606.91 1846.2,606.92 1846.97,606.92 1847.75,606.93 1848.54,606.93 1849.35,606.94 1850.18,606.94 1851.02,606.95 1851.87,606.96 1852.74,606.96 1853.62,606.97 1854.52,606.97 1855.42,606.98 1856.34,606.98 1857.27,606.99 1858.21,606.99 1859.17,607 1860.13,607 1861.11,607.01 1862.09,607.01 1863.08,607.02 1864.09,607.02 1865.1,607.03 1866.12,607.03 1867.15,607.04 1868.19,607.04 1869.24,607.05 1870.29,607.05 1871.35,607.06 1872.42,607.06 1873.49,607.07 1874.57,607.07 1875.66,607.08 1876.75,607.08 1877.85,607.09 1878.95,607.09 1880.05,607.09 1881.16,607.1 1882.27,607.1 1883.39,607.11 1884.51,607.11 1885.63,607.12 1886.76,607.12 1887.88,607.12 1889.01,607.13 1890.14,607.13 1891.27,607.14 1892.4,607.14 1893.53,607.15 1894.66,607.15 1895.79,607.15 1896.92,607.16 1898.05,607.16 1899.18,607.17 1900.3,607.17 1901.43,607.17 1902.55,607.18 1903.67,607.18 1904.78,607.19 1905.9,607.19 1907,607.19 1908.11,607.2 1909.21,607.2 1910.3,607.2 1911.39,607.21 1912.48,607.21 1913.55,607.21 1914.63,607.22 1915.69,607.22 1916.75,607.22 1917.8,607.23 1918.85,607.23 1919.88,607.23 1920.91,607.24 1921.93,607.24 1922.94,607.24 1923.94,607.25 1924.93,607.25 1925.92,607.25 1926.89,607.26 1927.85,607.26 1928.8,607.26 1929.74,607.27 1930.66,607.27 1931.58,607.27 1932.48,607.28 1933.37,607.28 1934.25,607.28 1935.11,607.28 1935.96,607.29 1936.8,607.29 1937.62,607.29 1938.43,607.29 1939.22,607.3 1940,607.3 1941.44,607.3 1942.87,607.31 1944.28,607.31 1945.68,607.32 1947.06,607.32 1948.43,607.33 1949.78,607.33 1951.12,607.33 1952.44,607.34 1953.74,607.34 1955.03,607.34 1956.31,607.35 1957.56,607.35 1958.81,607.35 1960.03,607.35 1961.24,607.36 1962.43,607.36 1963.6,607.36 1964.76,607.36 1965.9,607.37 1967.02,607.37 1968.13,607.37 1969.21,607.37 1970.28,607.37 1971.33,607.37 1972.36,607.38 1973.38,607.38 1974.37,607.38 1975.35,607.38 1976.3,607.38 1977.24,607.38 1978.16,607.38 1979.06,607.38 1979.94,607.39 1980.8,607.39 1981.63,607.39 1982.45,607.39 1983.25,607.39 1984.03,607.39 1984.79,607.39 1985.52,607.39 1986.24,607.39 1986.93,607.39 1987.6,607.39 1988.26,607.39 1988.89,607.4 1989.49,607.4 1990.08,607.4 1990.64,607.4 1991.18,607.4 1991.7,607.4" fill="none" stroke="#1994f4" stroke-width="3.5" stroke-linejoin="round" stroke-miterlimit="3" stroke-linecap="butt"/>
<line x1="1314.6" y1="597.1" x2="1314.6" y2="603" stroke="#1994f4" stroke-width="2.2" stroke-linecap="butt"/>
<polyline points="1281,608.4 1281.89,608.41 1283.17,608.43 1284.5,608.4 1285.28,608.41 1285.97,608.46 1286.93,608.37 1288.5,608 1289.21,607.78 1290.02,607.51 1290.89,607.19 1291.84,606.84 1292.84,606.46 1293.88,606.06 1294.96,605.66 1296.06,605.26 1297.18,604.88 1298.3,604.52 1299.41,604.19 1300.5,603.9 1301.42,603.67 1302.35,603.45 1303.27,603.23 1304.2,603.01 1305.14,602.81 1306.09,602.61 1307.05,602.42 1308.03,602.26 1309.03,602.11 1310.05,601.97 1311.09,601.87 1312.16,601.78 1313.26,601.73 1314.4,601.7 1315.31,601.7 1316.24,601.73 1317.2,601.78 1318.17,601.85 1319.16,601.93 1320.17,602.03 1321.19,602.15 1322.23,602.27 1323.27,602.4 1324.32,602.54 1325.38,602.68 1326.44,602.82 1327.51,602.97 1328.57,603.11 1329.63,603.24 1330.7,603.37 1331.75,603.49 1332.8,603.6 1333.79,603.7 1334.8,603.8 1335.8,603.9 1336.82,604 1337.84,604.1 1338.86,604.21 1339.88,604.31 1340.91,604.41 1341.94,604.51 1342.96,604.61 1343.99,604.71 1345.01,604.81 1346.03,604.9 1347.04,604.99 1348.05,605.08 1349.05,605.17 1350.04,605.25 1351.03,605.33 1352,605.4 1353.07,605.48 1354.13,605.56 1355.18,605.64 1356.22,605.72 1357.24,605.8 1358.27,605.87 1359.28,605.94 1360.29,606.01 1361.31,606.07 1362.32,606.13 1363.33,606.18 1364.36,606.22 1365.38,606.26 1366.42,606.28 1367.47,606.3 1368.53,606.31 1369.6,606.3 1370.57,606.29 1371.55,606.27 1372.54,606.25 1373.54,606.22 1374.54,606.18 1375.54,606.14 1376.56,606.1 1377.57,606.05 1378.59,605.99 1379.61,605.92 1380.63,605.85 1381.66,605.77 1382.68,605.69 1383.71,605.59 1384.73,605.49 1385.75,605.38 1386.77,605.26 1387.79,605.14 1388.8,605 1389.81,604.86 1390.84,604.71 1391.87,604.55 1392.9,604.38 1393.93,604.21 1394.97,604.03 1396.01,603.84 1397.05,603.64 1398.08,603.44 1399.12,603.22 1400.14,603.01 1401.16,602.78 1402.17,602.55 1403.18,602.31 1404.17,602.06 1405.15,601.81 1406.11,601.54 1407.07,601.28 1408,601 1409.02,600.69 1410.03,600.37 1411.02,600.04 1411.98,599.71 1412.94,599.37 1413.88,599.02 1414.82,598.66 1415.74,598.29 1416.66,597.91 1417.57,597.52 1418.48,597.11 1419.39,596.7 1420.3,596.27 1421.22,595.83 1422.14,595.37 1423.06,594.89 1424,594.4 1424.84,593.95 1425.68,593.49 1426.53,593.01 1427.37,592.53 1428.21,592.04 1429.05,591.53 1429.89,591.02 1430.74,590.49 1431.58,589.96 1432.42,589.41 1433.26,588.86 1434.11,588.29 1434.95,587.71 1435.79,587.12 1436.63,586.52 1437.47,585.91 1438.32,585.28 1439.16,584.65 1440,584 1440.76,583.4 1441.52,582.79 1442.29,582.16 1443.05,581.52 1443.81,580.87 1444.57,580.2 1445.33,579.53 1446.1,578.84 1446.86,578.15 1447.62,577.45 1448.38,576.75 1449.14,576.04 1449.9,575.32 1450.67,574.61 1451.43,573.89 1452.19,573.17 1452.95,572.45 1453.71,571.73 1454.48,571.02 1455.24,570.31 1456,569.6 1456.73,568.92 1457.45,568.23 1458.18,567.54 1458.91,566.83 1459.64,566.12 1460.36,565.4 1461.09,564.68 1461.82,563.96 1462.55,563.24 1463.27,562.52 1464,561.8 1464.73,561.08 1465.45,560.37 1466.18,559.67 1466.91,558.97 1467.64,558.28 1468.36,557.6 1469.09,556.93 1469.82,556.28 1470.55,555.63 1471.27,555.01 1472,554.4 1472.85,553.71 1473.7,553.02 1474.56,552.34 1475.42,551.67 1476.29,551 1477.16,550.35 1478.03,549.71 1478.9,549.07 1479.77,548.45 1480.63,547.85 1481.49,547.26 1482.34,546.68 1483.18,546.13 1484.02,545.59 1484.84,545.07 1485.65,544.57 1486.45,544.09 1487.23,543.63 1488,543.2 1489.08,542.61 1490.11,542.08 1491.11,541.6 1492.07,541.16 1493.01,540.76 1493.94,540.39 1494.86,540.05 1495.79,539.74 1496.73,539.45 1497.69,539.18 1498.69,538.91 1499.72,538.66 1500.8,538.4 1501.72,538.2 1502.67,538.03 1503.65,537.88 1504.65,537.74 1505.67,537.63 1506.71,537.52 1507.75,537.42 1508.8,537.33 1509.85,537.24 1510.89,537.16 1511.93,537.07 1512.95,536.98 1513.95,536.88 1514.93,536.77 1515.88,536.64 1516.8,536.5 1517.89,536.33 1518.95,536.17 1519.97,536.02 1520.97,535.87 1521.96,535.73 1522.92,535.57 1523.88,535.39 1524.82,535.19 1525.77,534.96 1526.71,534.69 1527.66,534.38 1528.62,534.02 1529.6,533.6 1530.46,533.2 1531.33,532.78 1532.21,532.33 1533.1,531.86 1533.99,531.37 1534.87,530.85 1535.76,530.3 1536.64,529.73 1537.51,529.12 1538.37,528.49 1539.22,527.82 1540.04,527.12 1540.85,526.38 1541.64,525.61 1542.4,524.8 1543.02,524.1 1543.62,523.36 1544.22,522.61 1544.81,521.82 1545.39,521.01 1545.96,520.18 1546.51,519.32 1547.06,518.45 1547.6,517.55 1548.13,516.64 1548.65,515.7 1549.16,514.76 1549.65,513.79 1550.14,512.82 1550.62,511.83 1551.09,510.83 1551.55,509.82 1552,508.8 1552.38,507.92 1552.74,507.02 1553.1,506.11 1553.44,505.18 1553.78,504.25 1554.11,503.3 1554.43,502.34 1554.74,501.37 1555.05,500.39 1555.35,499.4 1555.65,498.4 1555.94,497.39 1556.22,496.37 1556.5,495.35 1556.78,494.32 1557.06,493.28 1557.33,492.23 1557.6,491.18 1557.87,490.13 1558.13,489.06 1558.4,488 1558.63,487.06 1558.86,486.11 1559.08,485.15 1559.3,484.19 1559.52,483.21 1559.73,482.22 1559.94,481.23 1560.15,480.24 1560.35,479.23 1560.55,478.23 1560.75,477.22 1560.95,476.2 1561.14,475.18 1561.34,474.16 1561.53,473.14 1561.72,472.12 1561.91,471.1 1562.09,470.07 1562.28,469.05 1562.46,468.04 1562.65,467.02 1562.83,466.01 1563.02,465 1563.2,464 1563.38,463.01 1563.56,462.03 1563.74,461.06 1563.91,460.1 1564.08,459.15 1564.25,458.21 1564.42,457.27 1564.59,456.33 1564.75,455.39 1564.91,454.45 1565.08,453.5 1565.24,452.55 1565.4,451.59 1565.56,450.62 1565.72,449.64 1565.88,448.65 1566.04,447.64 1566.2,446.62 1566.37,445.57 1566.53,444.51 1566.7,443.42 1566.86,442.31 1567.03,441.17 1567.2,440 1567.32,439.15 1567.44,438.31 1567.56,437.49 1567.68,436.67 1567.8,435.87 1567.91,435.07 1568.03,434.27 1568.14,433.48 1568.26,432.68 1568.37,431.88 1568.49,431.07 1568.6,430.26 1568.71,429.44 1568.83,428.6 1568.94,427.75 1569.06,426.88 1569.18,425.99 1569.3,425.08 1569.42,424.14 1569.54,423.18 1569.67,422.19 1569.79,421.17 1569.92,420.11 1570.05,419.02 1570.19,417.89 1570.33,416.72 1570.47,415.51 1570.61,414.25 1570.76,412.95 1570.92,411.59 1571.07,410.18 1571.23,408.72 1571.4,407.2 1571.48,406.45 1571.56,405.68 1571.65,404.9 1571.73,404.1 1571.82,403.28 1571.91,402.44 1572,401.59 1572.09,400.73 1572.18,399.85 1572.27,398.96 1572.36,398.05 1572.46,397.13 1572.55,396.2 1572.65,395.25 1572.74,394.29 1572.84,393.33 1572.94,392.35 1573.04,391.36 1573.14,390.36 1573.24,389.35 1573.34,388.33 1573.45,387.3 1573.55,386.27 1573.65,385.22 1573.76,384.17 1573.86,383.12 1573.96,382.05 1574.07,380.98 1574.18,379.91 1574.28,378.83 1574.39,377.75 1574.49,376.66 1574.6,375.57 1574.71,374.47 1574.82,373.38 1574.92,372.28 1575.03,371.18 1575.14,370.07 1575.25,368.97 1575.35,367.87 1575.46,366.76 1575.57,365.66 1575.68,364.56 1575.78,363.46 1575.89,362.36 1576,361.27 1576.1,360.17 1576.21,359.08 1576.31,358 1576.42,356.92 1576.52,355.84 1576.63,354.77 1576.73,353.7 1576.84,352.65 1576.94,351.59 1577.04,350.55 1577.14,349.51 1577.24,348.48 1577.34,347.46 1577.44,346.44 1577.54,345.44 1577.64,344.44 1577.74,343.46 1577.83,342.49 1577.93,341.53 1578.02,340.58 1578.12,339.64 1578.21,338.71 1578.3,337.8 1578.41,336.67 1578.53,335.55 1578.64,334.43 1578.75,333.32 1578.86,332.23 1578.97,331.14 1579.09,330.05 1579.2,328.98 1579.31,327.91 1579.42,326.85 1579.53,325.8 1579.63,324.75 1579.74,323.7 1579.85,322.67 1579.96,321.64 1580.07,320.61 1580.17,319.59 1580.28,318.58 1580.39,317.57 1580.49,316.56 1580.6,315.56 1580.7,314.56 1580.81,313.57 1580.91,312.58 1581.01,311.59 1581.12,310.6 1581.22,309.62 1581.32,308.64 1581.42,307.66 1581.52,306.69 1581.62,305.71 1581.72,304.74 1581.82,303.77 1581.92,302.8 1582.02,301.83 1582.12,300.86 1582.22,299.89 1582.32,298.92 1582.41,297.95 1582.51,296.98 1582.6,296.01 1582.7,295.04 1582.8,294.07 1582.89,293.09 1582.98,292.12 1583.08,291.14 1583.17,290.16 1583.26,289.17 1583.36,288.19 1583.45,287.2 1583.54,286.21 1583.63,285.21 1583.72,284.21 1583.81,283.21 1583.9,282.2 1583.99,281.19 1584.08,280.18 1584.16,279.17 1584.25,278.16 1584.33,277.15 1584.42,276.14 1584.5,275.13 1584.58,274.12 1584.66,273.11 1584.74,272.1 1584.82,271.1 1584.9,270.09 1584.98,269.08 1585.06,268.07 1585.13,267.06 1585.21,266.05 1585.28,265.04 1585.36,264.03 1585.43,263.02 1585.51,262.02 1585.58,261.01 1585.66,260 1585.73,258.99 1585.8,257.98 1585.88,256.97 1585.95,255.96 1586.02,254.95 1586.09,253.95 1586.16,252.94 1586.24,251.93 1586.31,250.92 1586.38,249.91 1586.45,248.9 1586.52,247.89 1586.59,246.88 1586.67,245.88 1586.74,244.87 1586.81,243.86 1586.88,242.85 1586.96,241.84 1587.03,240.83 1587.1,239.82 1587.18,238.81 1587.25,237.8 1587.32,236.8 1587.4,235.79 1587.48,234.78 1587.55,233.77 1587.63,232.76 1587.7,231.75 1587.78,230.74 1587.86,229.73 1587.94,228.72 1588.02,227.71 1588.1,226.7 1588.18,225.69 1588.26,224.67 1588.34,223.66 1588.43,222.64 1588.51,221.62 1588.59,220.59 1588.67,219.57 1588.75,218.54 1588.84,217.51 1588.92,216.48 1589,215.45 1589.09,214.42 1589.17,213.39 1589.25,212.35 1589.34,211.32 1589.42,210.28 1589.51,209.24 1589.59,208.21 1589.67,207.17 1589.76,206.14 1589.84,205.1 1589.93,204.06 1590.01,203.03 1590.1,201.99 1590.19,200.96 1590.27,199.93 1590.36,198.9 1590.44,197.87 1590.53,196.84 1590.62,195.81 1590.7,194.78 1590.79,193.76 1590.87,192.74 1590.96,191.72 1591.05,190.7 1591.13,189.69 1591.22,188.68 1591.31,187.67 1591.4,186.66 1591.48,185.66 1591.57,184.66 1591.66,183.67 1591.75,182.67 1591.83,181.68 1591.92,180.7 1592.01,179.72 1592.1,178.74 1592.18,177.77 1592.27,176.8 1592.36,175.84 1592.45,174.88 1592.54,173.93 1592.62,172.98 1592.71,172.04 1592.8,171.1 1592.9,170.01 1593.01,168.91 1593.11,167.82 1593.22,166.72 1593.32,165.63 1593.43,164.53 1593.53,163.44 1593.64,162.35 1593.75,161.26 1593.85,160.17 1593.96,159.08 1594.07,158 1594.18,156.91 1594.28,155.83 1594.39,154.76 1594.5,153.69 1594.61,152.62 1594.72,151.56 1594.82,150.5 1594.93,149.44 1595.04,148.39 1595.15,147.35 1595.26,146.31 1595.37,145.28 1595.48,144.25 1595.58,143.23 1595.69,142.22 1595.8,141.22 1595.91,140.22 1596.02,139.23 1596.12,138.25 1596.23,137.27 1596.34,136.31 1596.44,135.36 1596.55,134.41 1596.66,133.47 1596.76,132.55 1596.87,131.63 1596.97,130.73 1597.08,129.83 1597.18,128.95 1597.29,128.08 1597.39,127.22 1597.49,126.37 1597.6,125.53 1597.7,124.71 1597.8,123.9 1597.97,122.57 1598.13,121.26 1598.3,119.97 1598.46,118.72 1598.62,117.49 1598.78,116.28 1598.93,115.1 1599.09,113.94 1599.24,112.81 1599.39,111.7 1599.55,110.62 1599.7,109.56 1599.85,108.52 1600.01,107.51 1600.16,106.52 1600.31,105.55 1600.47,104.6 1600.62,103.68 1600.78,102.78 1600.94,101.9 1601.1,101.04 1601.27,100.2 1601.43,99.38 1601.6,98.59 1601.77,97.81 1601.94,97.05 1602.12,96.32 1602.3,95.6 1602.73,93.99 1603.17,92.47 1603.63,91.05 1604.09,89.74 1604.56,88.54 1605.04,87.47 1605.53,86.55 1606.02,85.76 1606.51,85.14 1607.01,84.68 1607.5,84.4 1608,84.3 1608.5,84.4 1609.02,84.68 1609.54,85.14 1610.07,85.76 1610.6,86.55 1611.13,87.47 1611.66,88.54 1612.19,89.74 1612.71,91.05 1613.22,92.47 1613.72,93.99 1614.2,95.6 1614.4,96.32 1614.6,97.05 1614.8,97.81 1614.99,98.59 1615.18,99.38 1615.37,100.2 1615.56,101.04 1615.75,101.9 1615.93,102.78 1616.11,103.68 1616.3,104.6 1616.48,105.55 1616.66,106.52 1616.84,107.51 1617.02,108.52 1617.2,109.56 1617.38,110.62 1617.55,111.7 1617.73,112.81 1617.91,113.94 1618.1,115.1 1618.28,116.28 1618.46,117.49 1618.64,118.72 1618.83,119.97 1619.02,121.26 1619.21,122.57 1619.4,123.9 1619.52,124.71 1619.63,125.53 1619.75,126.37 1619.86,127.22 1619.98,128.08 1620.1,128.95 1620.21,129.83 1620.33,130.73 1620.45,131.63 1620.57,132.55 1620.68,133.47 1620.8,134.41 1620.92,135.36 1621.04,136.31 1621.16,137.27 1621.28,138.25 1621.4,139.23 1621.52,140.22 1621.64,141.22 1621.75,142.22 1621.87,143.23 1621.99,144.25 1622.11,145.28 1622.24,146.31 1622.36,147.35 1622.48,148.39 1622.6,149.44 1622.72,150.5 1622.84,151.56 1622.96,152.62 1623.08,153.69 1623.2,154.76 1623.32,155.83 1623.44,156.91 1623.56,158 1623.68,159.08 1623.8,160.17 1623.92,161.26 1624.04,162.35 1624.16,163.44 1624.28,164.53 1624.4,165.63 1624.52,166.72 1624.64,167.82 1624.76,168.91 1624.88,170.01 1625,171.1 1625.1,172.04 1625.2,172.98 1625.3,173.93 1625.41,174.88 1625.51,175.84 1625.61,176.8 1625.71,177.77 1625.81,178.74 1625.91,179.72 1626.01,180.7 1626.11,181.68 1626.21,182.67 1626.31,183.67 1626.41,184.66 1626.51,185.66 1626.61,186.66 1626.71,187.67 1626.81,188.68 1626.92,189.69 1627.02,190.7 1627.12,191.72 1627.22,192.74 1627.32,193.76 1627.42,194.78 1627.52,195.81 1627.62,196.84 1627.72,197.87 1627.82,198.9 1627.92,199.93 1628.02,200.96 1628.12,201.99 1628.22,203.03 1628.32,204.06 1628.43,205.1 1628.53,206.14 1628.63,207.17 1628.73,208.21 1628.83,209.24 1628.93,210.28 1629.04,211.32 1629.14,212.35 1629.24,213.39 1629.34,214.42 1629.45,215.45 1629.55,216.48 1629.66,217.51 1629.76,218.54 1629.86,219.57 1629.97,220.59 1630.07,221.62 1630.18,222.64 1630.28,223.66 1630.39,224.67 1630.49,225.69 1630.6,226.7 1630.71,227.71 1630.81,228.72 1630.92,229.73 1631.03,230.74 1631.14,231.75 1631.24,232.76 1631.35,233.77 1631.46,234.78 1631.57,235.79 1631.68,236.8 1631.79,237.8 1631.9,238.81 1632.01,239.82 1632.12,240.83 1632.23,241.84 1632.34,242.85 1632.45,243.86 1632.56,244.87 1632.67,245.88 1632.78,246.88 1632.89,247.89 1633,248.9 1633.12,249.91 1633.23,250.92 1633.34,251.93 1633.45,252.94 1633.56,253.95 1633.67,254.95 1633.79,255.96 1633.9,256.97 1634.01,257.98 1634.12,258.99 1634.24,260 1634.35,261.01 1634.46,262.02 1634.57,263.02 1634.69,264.03 1634.8,265.04 1634.91,266.05 1635.02,267.06 1635.14,268.07 1635.25,269.08 1635.36,270.09 1635.47,271.1 1635.58,272.1 1635.7,273.11 1635.81,274.12 1635.92,275.13 1636.03,276.14 1636.14,277.15 1636.26,278.16 1636.37,279.17 1636.48,280.18 1636.59,281.19 1636.7,282.2 1636.81,283.21 1636.92,284.21 1637.03,285.21 1637.14,286.21 1637.25,287.2 1637.36,288.19 1637.46,289.17 1637.57,290.16 1637.68,291.14 1637.79,292.12 1637.89,293.09 1638,294.07 1638.11,295.04 1638.21,296.01 1638.32,296.98 1638.42,297.95 1638.53,298.92 1638.64,299.89 1638.74,300.86 1638.85,301.83 1638.95,302.8 1639.06,303.77 1639.16,304.74 1639.27,305.71 1639.38,306.69 1639.48,307.66 1639.59,308.64 1639.7,309.62 1639.8,310.6 1639.91,311.59 1640.02,312.58 1640.13,313.57 1640.24,314.56 1640.35,315.56 1640.46,316.56 1640.57,317.57 1640.68,318.58 1640.79,319.59 1640.9,320.61 1641.01,321.64 1641.13,322.67 1641.24,323.7 1641.36,324.75 1641.47,325.8 1641.59,326.85 1641.7,327.91 1641.82,328.98 1641.94,330.05 1642.06,331.14 1642.18,332.23 1642.3,333.32 1642.43,334.43 1642.55,335.55 1642.67,336.67 1642.8,337.8 1642.9,338.71 1643,339.64 1643.11,340.58 1643.21,341.53 1643.32,342.49 1643.42,343.46 1643.53,344.44 1643.64,345.44 1643.75,346.44 1643.86,347.46 1643.97,348.48 1644.09,349.51 1644.2,350.55 1644.31,351.59 1644.43,352.65 1644.54,353.7 1644.66,354.77 1644.77,355.84 1644.89,356.92 1645.01,358 1645.13,359.08 1645.24,360.17 1645.36,361.27 1645.48,362.36 1645.6,363.46 1645.72,364.56 1645.84,365.66 1645.96,366.76 1646.08,367.87 1646.2,368.97 1646.32,370.07 1646.44,371.18 1646.56,372.28 1646.68,373.38 1646.8,374.47 1646.92,375.57 1647.04,376.66 1647.16,377.75 1647.28,378.83 1647.4,379.91 1647.52,380.98 1647.64,382.05 1647.76,383.12 1647.88,384.17 1648,385.22 1648.11,386.27 1648.23,387.3 1648.35,388.33 1648.46,389.35 1648.58,390.36 1648.69,391.36 1648.81,392.35 1648.92,393.33 1649.03,394.29 1649.14,395.25 1649.25,396.2 1649.36,397.13 1649.47,398.05 1649.58,398.96 1649.69,399.85 1649.79,400.73 1649.9,401.59 1650,402.44 1650.11,403.28 1650.21,404.1 1650.31,404.9 1650.41,405.68 1650.5,406.45 1650.6,407.2 1650.8,408.72 1650.99,410.18 1651.19,411.59 1651.38,412.95 1651.56,414.25 1651.75,415.51 1651.93,416.72 1652.11,417.89 1652.28,419.02 1652.46,420.11 1652.63,421.17 1652.8,422.19 1652.97,423.18 1653.13,424.14 1653.3,425.08 1653.46,425.99 1653.62,426.88 1653.78,427.75 1653.93,428.6 1654.09,429.44 1654.24,430.26 1654.39,431.07 1654.54,431.88 1654.69,432.68 1654.84,433.48 1654.99,434.27 1655.14,435.07 1655.28,435.87 1655.43,436.67 1655.57,437.49 1655.71,438.31 1655.86,439.15 1656,440 1656.19,441.17 1656.38,442.31 1656.56,443.42 1656.74,444.51 1656.91,445.57 1657.08,446.62 1657.25,447.64 1657.41,448.65 1657.57,449.64 1657.73,450.62 1657.88,451.59 1658.04,452.55 1658.19,453.5 1658.35,454.45 1658.5,455.39 1658.66,456.33 1658.82,457.27 1658.98,458.21 1659.14,459.15 1659.3,460.1 1659.47,461.06 1659.64,462.03 1659.82,463.01 1660,464 1660.18,465 1660.37,466 1660.56,467 1660.74,468 1660.93,469 1661.12,470 1661.32,471 1661.51,472 1661.71,473 1661.9,474 1662.1,475 1662.3,476 1662.5,477 1662.7,478 1662.91,479 1663.11,480 1663.32,481 1663.52,482 1663.73,483 1663.94,484 1664.16,485 1664.37,486 1664.58,487 1664.8,488 1665.02,489 1665.23,490 1665.45,491 1665.67,492 1665.89,493 1666.11,494 1666.33,495 1666.55,496 1666.77,497 1667,498 1667.22,499 1667.45,500 1667.68,501 1667.91,502 1668.15,503 1668.39,504 1668.63,505 1668.87,506 1669.12,507 1669.36,508 1669.62,509 1669.87,510 1670.14,511 1670.4,512 1670.66,512.96 1670.92,513.93 1671.18,514.91 1671.45,515.89 1671.72,516.88 1672,517.87 1672.28,518.86 1672.56,519.85 1672.84,520.84 1673.13,521.83 1673.41,522.82 1673.7,523.81 1674,524.79 1674.29,525.77 1674.59,526.75 1674.88,527.71 1675.18,528.68 1675.48,529.63 1675.78,530.57 1676.08,531.51 1676.39,532.43 1676.69,533.34 1676.99,534.24 1677.3,535.13 1677.6,536 1677.98,537.07 1678.36,538.13 1678.74,539.17 1679.12,540.2 1679.51,541.21 1679.89,542.21 1680.28,543.2 1680.67,544.18 1681.06,545.14 1681.45,546.1 1681.85,547.05 1682.25,547.98 1682.65,548.91 1683.06,549.83 1683.47,550.74 1683.88,551.64 1684.31,552.54 1684.73,553.43 1685.16,554.32 1685.6,555.2 1686.09,556.18 1686.59,557.14 1687.09,558.11 1687.6,559.06 1688.11,560.01 1688.62,560.95 1689.14,561.88 1689.67,562.79 1690.2,563.7 1690.74,564.59 1691.28,565.47 1691.82,566.34 1692.37,567.19 1692.93,568.03 1693.49,568.85 1694.05,569.65 1694.62,570.43 1695.2,571.2 1695.9,572.09 1696.6,572.96 1697.31,573.8 1698.03,574.61 1698.76,575.41 1699.49,576.18 1700.23,576.93 1700.97,577.66 1701.73,578.38 1702.49,579.08 1703.26,579.77 1704.03,580.44 1704.81,581.1 1705.6,581.76 1706.4,582.4 1707.2,583.03 1708,583.64 1708.81,584.24 1709.62,584.81 1710.43,585.37 1711.25,585.92 1712.08,586.46 1712.92,586.98 1713.77,587.49 1714.64,587.99 1715.52,588.49 1716.41,588.97 1717.32,589.45 1718.25,589.93 1719.2,590.4 1720.05,590.81 1720.91,591.22 1721.77,591.61 1722.64,592 1723.52,592.39 1724.42,592.77 1725.32,593.14 1726.24,593.5 1727.17,593.86 1728.11,594.21 1729.07,594.56 1730.04,594.9 1731.04,595.23 1732.05,595.56 1733.08,595.88 1734.13,596.19 1735.2,596.5 1736.08,596.74 1736.98,596.98 1737.89,597.21 1738.82,597.44 1739.75,597.66 1740.7,597.88 1741.66,598.09 1742.63,598.3 1743.61,598.5 1744.6,598.7 1745.6,598.9 1746.61,599.09 1747.63,599.29 1748.65,599.48 1749.68,599.67 1750.72,599.86 1751.77,600.04 1752.82,600.23 1753.87,600.42 1754.94,600.61 1756,600.8 1756.94,600.97 1757.89,601.13 1758.85,601.3 1759.81,601.47 1760.79,601.64 1761.77,601.8 1762.77,601.97 1763.76,602.14 1764.77,602.3 1765.77,602.47 1766.78,602.63 1767.8,602.79 1768.82,602.95 1769.84,603.1 1770.86,603.26 1771.88,603.41 1772.9,603.56 1773.92,603.7 1774.95,603.84 1775.96,603.98 1776.98,604.12 1777.99,604.25 1779,604.38 1780,604.5 1780.99,604.62 1781.95,604.73 1782.89,604.85 1783.81,604.95 1784.73,605.06 1785.62,605.16 1786.52,605.26 1787.41,605.36 1788.3,605.45 1789.19,605.54 1790.09,605.63 1791,605.71 1791.92,605.8 1792.87,605.88 1793.83,605.96 1794.81,606.03 1795.83,606.11 1796.88,606.18 1797.96,606.26 1799.07,606.33 1800.23,606.4 1801.44,606.47 1802.69,606.53 1804,606.6 1804.79,606.64 1805.57,606.68 1806.34,606.72 1807.1,606.75 1807.85,606.79 1808.6,606.82 1809.34,606.86 1810.08,606.89 1810.82,606.93 1811.56,606.96 1812.31,606.99 1813.06,607.02 1813.82,607.05 1814.59,607.08 1815.37,607.11 1816.16,607.14 1816.97,607.17 1817.79,607.2 1818.64,607.22 1819.5,607.25 1820.39,607.28 1821.3,607.3 1822.23,607.33 1823.2,607.35 1824.2,607.38 1825.22,607.4 1826.28,607.42 1827.38,607.45 1828.51,607.47 1829.69,607.49 1830.9,607.51 1832.16,607.53 1833.46,607.56 1834.81,607.58 1836.21,607.6 1837.66,607.62 1839.16,607.64 1840.72,607.66 1842.33,607.68 1844,607.7 1844.72,607.71 1845.45,607.72 1846.2,607.72 1846.97,607.73 1847.75,607.74 1848.54,607.75 1849.35,607.76 1850.18,607.76 1851.02,607.77 1851.87,607.78 1852.74,607.79 1853.62,607.79 1854.52,607.8 1855.42,607.81 1856.34,607.82 1857.27,607.82 1858.21,607.83 1859.17,607.84 1860.13,607.84 1861.11,607.85 1862.09,607.86 1863.08,607.86 1864.09,607.87 1865.1,607.88 1866.12,607.88 1867.15,607.89 1868.19,607.9 1869.24,607.9 1870.29,607.91 1871.35,607.91 1872.42,607.92 1873.49,607.93 1874.57,607.93 1875.66,607.94 1876.75,607.94 1877.85,607.95 1878.95,607.95 1880.05,607.96 1881.16,607.97 1882.27,607.97 1883.39,607.98 1884.51,607.98 1885.63,607.99 1886.76,607.99 1887.88,608 1889.01,608 1890.14,608.01 1891.27,608.01 1892.4,608.02 1893.53,608.02 1894.66,608.03 1895.79,608.03 1896.92,608.04 1898.05,608.04 1899.18,608.05 1900.3,608.05 1901.43,608.05 1902.55,608.06 1903.67,608.06 1904.78,608.07 1905.9,608.07 1907,608.08 1908.11,608.08 1909.21,608.09 1910.3,608.09 1911.39,608.09 1912.48,608.1 1913.55,608.1 1914.63,608.11 1915.69,608.11 1916.75,608.11 1917.8,608.12 1918.85,608.12 1919.88,608.12 1920.91,608.13 1921.93,608.13 1922.94,608.14 1923.94,608.14 1924.93,608.14 1925.92,608.15 1926.89,608.15 1927.85,608.15 1928.8,608.16 1929.74,608.16 1930.66,608.16 1931.58,608.17 1932.48,608.17 1933.37,608.17 1934.25,608.18 1935.11,608.18 1935.96,608.18 1936.8,608.19 1937.62,608.19 1938.43,608.19 1939.22,608.2 1940,608.2 1941.44,608.21 1942.87,608.21 1944.28,608.22 1945.68,608.22 1947.06,608.23 1948.43,608.23 1949.78,608.23 1951.12,608.24 1952.44,608.24 1953.74,608.25 1955.03,608.25 1956.31,608.25 1957.56,608.26 1958.81,608.26 1960.03,608.26 1961.24,608.26 1962.43,608.27 1963.6,608.27 1964.76,608.27 1965.9,608.27 1967.02,608.27 1968.13,608.28 1969.21,608.28 1970.28,608.28 1971.33,608.28 1972.36,608.28 1973.38,608.28 1974.37,608.28 1975.35,608.28 1976.3,608.29 1977.24,608.29 1978.16,608.29 1979.06,608.29 1979.94,608.29 1980.8,608.29 1981.63,608.29 1982.45,608.29 1983.25,608.29 1984.03,608.29 1984.79,608.29 1985.52,608.29 1986.24,608.29 1986.93,608.29 1987.6,608.29 1988.26,608.3 1988.89,608.3 1989.49,608.3 1990.08,608.3 1990.64,608.3 1991.18,608.3 1991.7,608.3" fill="none" stroke="#000" stroke-width="3.5" stroke-linejoin="round" stroke-miterlimit="3" stroke-linecap="butt"/>
<text x="1161.9" y="657.9" font-size="28" text-anchor="middle">20</text>
<text x="1299.05" y="657.9" font-size="28" text-anchor="middle">30</text>
<text x="1436.2" y="657.9" font-size="28" text-anchor="middle">40</text>
<text x="1573.35" y="657.9" font-size="28" text-anchor="middle">50</text>
<text x="1710.5" y="657.9" font-size="28" text-anchor="middle">60</text>
<text x="1847.65" y="657.9" font-size="28" text-anchor="middle">70</text>
<text x="1984.8" y="657.9" font-size="28" text-anchor="middle">80</text>
<text x="1555.4" y="692.9" font-size="28" text-anchor="middle">Minutes</text>
<text x="1009.7" y="334.1" font-size="27.3" text-anchor="middle" transform="rotate(-90 1009.7 334.1)">Cholesterol</text>
<text x="1041.8" y="333.7" font-size="27.3" text-anchor="middle" transform="rotate(-90 1041.8 333.7)">absorbance [a.U.]</text>
<line x1="1223.8" y1="60.2" x2="1258.2" y2="60.2" stroke="#000" stroke-width="3.2" stroke-linecap="butt"/>
<text x="1267.7" y="69.7" font-size="27.5" text-anchor="start">Ctrl</text>
<line x1="1223.8" y1="105.3" x2="1258.2" y2="105.3" stroke="#1994f4" stroke-width="3.2" stroke-linecap="butt"/>
<text x="1269.8" y="114.7" font-size="27.4" text-anchor="start"><tspan font-style="italic">Spring</tspan><tspan font-size="16" dy="-9.9" dx="-1.7" letter-spacing="0.2">LKO</tspan></text>
<text x="1603.9" y="71.9" font-size="28" text-anchor="middle">HDL</text>
<text x="1472.5" y="487.5" font-size="28" text-anchor="middle">LDL</text>
<text x="1308.3" y="544.3" font-size="28" text-anchor="middle">VLDL</text>
<text x="-0.9" y="759.6" font-size="44" text-anchor="start" font-weight="bold">d</text>
<g fill="none" stroke="#000" stroke-width="4.9">
<circle cx="251" cy="816" r="18.1"/>
<path d="M258.35 799.4 L271.8 769"/>
<path d="M249 779.1 L272.4 767.7 L279 792.9" stroke-linejoin="round"/>
</g>
<line x1="100.85" y1="860.3" x2="100.85" y2="1343.3" stroke="#000" stroke-width="3.2" stroke-linecap="butt"/>
<line x1="87.05" y1="861.9" x2="102.45" y2="861.9" stroke="#000" stroke-width="3.2" stroke-linecap="butt"/>
<text x="74.7" y="873.4" font-size="28" text-anchor="end">80</text>
<line x1="87.05" y1="981.85" x2="102.45" y2="981.85" stroke="#000" stroke-width="3.2" stroke-linecap="butt"/>
<text x="74.7" y="993.35" font-size="28" text-anchor="end">60</text>
<line x1="87.05" y1="1101.8" x2="102.45" y2="1101.8" stroke="#000" stroke-width="3.2" stroke-linecap="butt"/>
<text x="74.7" y="1113.3" font-size="28" text-anchor="end">40</text>
<line x1="87.05" y1="1221.75" x2="102.45" y2="1221.75" stroke="#000" stroke-width="3.2" stroke-linecap="butt"/>
<text x="74.7" y="1233.25" font-size="28" text-anchor="end">20</text>
<line x1="87.05" y1="1341.7" x2="102.45" y2="1341.7" stroke="#000" stroke-width="3.2" stroke-linecap="butt"/>
<text x="74.7" y="1353.2" font-size="28" text-anchor="end">0</text>
<line x1="87.05" y1="1341.7" x2="420.8" y2="1341.7" stroke="#000" stroke-width="3.2" stroke-linecap="butt"/>
<text x="23.8" y="1102" font-size="27.3" text-anchor="middle" transform="rotate(-90 23.8 1102)">Plasma triglycerides [mg/dL]</text>
<path d="M192 898.4 V878.2 H329.5 V898.4" fill="none" stroke="#000" stroke-width="1.5"/>
<text x="256.7" y="868.3" font-size="27.4" text-anchor="middle">0.79</text>
<line x1="192" y1="938" x2="192" y2="965.8" stroke="#000" stroke-width="1.9" stroke-linecap="butt"/>
<line x1="192" y1="1137" x2="192" y2="1166.5" stroke="#000" stroke-width="1.9" stroke-linecap="butt"/>
<line x1="169.5" y1="938" x2="214.5" y2="938" stroke="#000" stroke-width="1.9" stroke-linecap="butt"/>
<line x1="169.5" y1="1166.5" x2="214.5" y2="1166.5" stroke="#000" stroke-width="1.9" stroke-linecap="butt"/>
<rect x="148.8" y="965.8" width="86.7" height="168" fill="#c8c8c8" stroke="#000" stroke-width="1.9"/>
<line x1="148.8" y1="983" x2="235.5" y2="983" stroke="#000" stroke-width="1.9" stroke-linecap="butt"/>
<circle cx="192" cy="938" r="7.15" fill="none" stroke="#000" stroke-width="1.9"/>
<circle cx="192" cy="959.5" r="7.15" fill="none" stroke="#000" stroke-width="1.9"/>
<circle cx="179.3" cy="975.8" r="7.15" fill="none" stroke="#000" stroke-width="1.9"/>
<circle cx="205" cy="975.8" r="7.15" fill="none" stroke="#000" stroke-width="1.9"/>
<circle cx="192" cy="991.3" r="7.15" fill="none" stroke="#000" stroke-width="1.9"/>
<circle cx="192" cy="1060" r="7.15" fill="none" stroke="#000" stroke-width="1.9"/>
<circle cx="205" cy="1161.3" r="7.15" fill="none" stroke="#000" stroke-width="1.9"/>
<circle cx="178.8" cy="1167.5" r="7.15" fill="none" stroke="#000" stroke-width="1.9"/>
<line x1="329.5" y1="917" x2="329.5" y2="990.7" stroke="#000" stroke-width="1.9" stroke-linecap="butt"/>
<line x1="329.5" y1="1100" x2="329.5" y2="1145" stroke="#000" stroke-width="1.9" stroke-linecap="butt"/>
<line x1="307" y1="917" x2="352.5" y2="917" stroke="#000" stroke-width="1.9" stroke-linecap="butt"/>
<line x1="307" y1="1145" x2="352.5" y2="1145" stroke="#000" stroke-width="1.9" stroke-linecap="butt"/>
<rect x="286.3" y="993.3" width="87" height="106.7" fill="#1994f4" stroke="#000" stroke-width="1.9"/>
<line x1="286.3" y1="1039" x2="373.3" y2="1039" stroke="#000" stroke-width="1.9" stroke-linecap="butt"/>
<circle cx="329.5" cy="917" r="7.15" fill="none" stroke="#000" stroke-width="1.9"/>
<circle cx="316.8" cy="991.3" r="7.15" fill="none" stroke="#000" stroke-width="1.9"/>
<circle cx="342.5" cy="991.3" r="7.15" fill="none" stroke="#000" stroke-width="1.9"/>
<circle cx="329.5" cy="1028.8" r="7.15" fill="none" stroke="#000" stroke-width="1.9"/>
<circle cx="329.5" cy="1049.5" r="7.15" fill="none" stroke="#000" stroke-width="1.9"/>
<circle cx="329.5" cy="1087" r="7.15" fill="none" stroke="#000" stroke-width="1.9"/>
<circle cx="329.5" cy="1108.3" r="7.15" fill="none" stroke="#000" stroke-width="1.9"/>
<circle cx="329.5" cy="1145" r="7.15" fill="none" stroke="#000" stroke-width="1.9"/>
<text x="191.8" y="1375.8" font-size="28" text-anchor="middle">Ctrl</text>
<text x="273" y="1375.8" font-size="28" text-anchor="start"><tspan font-style="italic">Spring</tspan><tspan font-size="16" dy="-9.1" dx="0.2" letter-spacing="0.9">L</tspan><tspan font-size="16" font-style="italic" letter-spacing="0.9">KO</tspan></text>
<text x="527" y="759.6" font-size="44" text-anchor="start" font-weight="bold">e</text>
<g fill="none" stroke="#000" stroke-width="4.9">
<circle cx="779.9" cy="785.2" r="17.8"/>
<path d="M779.9 803 V837"/>
<path d="M761.2 818.9 H798.6"/>
</g>
<line x1="623.45" y1="861.95" x2="623.45" y2="1345.2" stroke="#000" stroke-width="3.2" stroke-linecap="butt"/>
<line x1="609.7" y1="863.55" x2="625.05" y2="863.55" stroke="#000" stroke-width="3.2" stroke-linecap="butt"/>
<text x="600.5" y="875.05" font-size="28" text-anchor="end">80</text>
<line x1="609.7" y1="983.55" x2="625.05" y2="983.55" stroke="#000" stroke-width="3.2" stroke-linecap="butt"/>
<text x="600.5" y="995.05" font-size="28" text-anchor="end">60</text>
<line x1="609.7" y1="1103.6" x2="625.05" y2="1103.6" stroke="#000" stroke-width="3.2" stroke-linecap="butt"/>
<text x="600.5" y="1115.1" font-size="28" text-anchor="end">40</text>
<line x1="609.7" y1="1223.6" x2="625.05" y2="1223.6" stroke="#000" stroke-width="3.2" stroke-linecap="butt"/>
<text x="600.5" y="1235.1" font-size="28" text-anchor="end">20</text>
<line x1="609.7" y1="1343.6" x2="625.05" y2="1343.6" stroke="#000" stroke-width="3.2" stroke-linecap="butt"/>
<text x="600.5" y="1355.1" font-size="28" text-anchor="end">0</text>
<line x1="609.7" y1="1343.6" x2="943.3" y2="1343.6" stroke="#000" stroke-width="3.2" stroke-linecap="butt"/>
<text x="551.4" y="1103.4" font-size="27.3" text-anchor="middle" transform="rotate(-90 551.4 1103.4)">Plasma triglycerides [mg/dL]</text>
<path d="M713.8 964.2 V943.9 H852.5 V964.2" fill="none" stroke="#000" stroke-width="1.9"/>
<text x="782.7" y="935.2" font-size="28" text-anchor="middle">0.44</text>
<line x1="714.5" y1="1115" x2="714.5" y2="1121.3" stroke="#000" stroke-width="1.9" stroke-linecap="butt"/>
<line x1="714.5" y1="1219.3" x2="714.5" y2="1237.5" stroke="#000" stroke-width="1.9" stroke-linecap="butt"/>
<line x1="692" y1="1115.4" x2="739" y2="1115.4" stroke="#000" stroke-width="1.9" stroke-linecap="butt"/>
<line x1="692" y1="1237.5" x2="737.5" y2="1237.5" stroke="#000" stroke-width="1.9" stroke-linecap="butt"/>
<rect x="671.3" y="1121.3" width="87" height="98" fill="#c8c8c8" stroke="#000" stroke-width="1.9"/>
<line x1="671.3" y1="1139" x2="758.3" y2="1139" stroke="#000" stroke-width="1.9" stroke-linecap="butt"/>
<circle cx="688.8" cy="1115" r="7.15" fill="none" stroke="#000" stroke-width="1.9"/>
<circle cx="740.8" cy="1120.5" r="7.15" fill="none" stroke="#000" stroke-width="1.9"/>
<circle cx="714.5" cy="1126.3" r="7.15" fill="none" stroke="#000" stroke-width="1.9"/>
<circle cx="714.5" cy="1152.5" r="7.15" fill="none" stroke="#000" stroke-width="1.9"/>
<circle cx="714.5" cy="1216.3" r="7.15" fill="none" stroke="#000" stroke-width="1.9"/>
<circle cx="714.5" cy="1237.5" r="7.15" fill="none" stroke="#000" stroke-width="1.9"/>
<line x1="852" y1="982" x2="852" y2="990.7" stroke="#000" stroke-width="1.9" stroke-linecap="butt"/>
<line x1="852" y1="1228.8" x2="852" y2="1242.5" stroke="#000" stroke-width="1.9" stroke-linecap="butt"/>
<line x1="829.5" y1="982" x2="874.5" y2="982" stroke="#000" stroke-width="1.9" stroke-linecap="butt"/>
<line x1="829.5" y1="1242.5" x2="874.5" y2="1242.5" stroke="#000" stroke-width="1.9" stroke-linecap="butt"/>
<rect x="808.8" y="993" width="86.7" height="235.8" fill="#f53317" stroke="#000" stroke-width="1.9"/>
<line x1="808.8" y1="1139" x2="895.5" y2="1139" stroke="#000" stroke-width="1.9" stroke-linecap="butt"/>
<circle cx="864.9" cy="982.3" r="7.15" fill="none" stroke="#000" stroke-width="1.9"/>
<circle cx="838.8" cy="992.9" r="7.15" fill="none" stroke="#000" stroke-width="1.9"/>
<circle cx="852" cy="1115" r="7.15" fill="none" stroke="#000" stroke-width="1.9"/>
<circle cx="852" cy="1163.3" r="7.15" fill="none" stroke="#000" stroke-width="1.9"/>
<circle cx="852" cy="1226.8" r="7.15" fill="none" stroke="#000" stroke-width="1.9"/>
<circle cx="852" cy="1242.5" r="7.15" fill="none" stroke="#000" stroke-width="1.9"/>
<text x="714.2" y="1375.8" font-size="28" text-anchor="middle">Ctrl</text>
<text x="793.2" y="1375.8" font-size="28" text-anchor="start"><tspan font-style="italic">Spring</tspan><tspan font-size="16" dy="-9.1" dx="0.2" letter-spacing="0.9">L</tspan><tspan font-size="16" font-style="italic" letter-spacing="0.9" dx="4.5">KO</tspan></text>
<text x="986.2" y="759.6" font-size="44" text-anchor="start" font-weight="bold">f</text>
<line x1="1168.4" y1="787.95" x2="1168.4" y2="1340.1" stroke="#000" stroke-width="3.2" stroke-linecap="butt"/>
<line x1="1155.8" y1="789.55" x2="1170" y2="789.55" stroke="#000" stroke-width="3.2" stroke-linecap="butt"/>
<text x="1146.9" y="801.05" font-size="28" text-anchor="end">20000</text>
<line x1="1155.8" y1="926.8" x2="1170" y2="926.8" stroke="#000" stroke-width="3.2" stroke-linecap="butt"/>
<text x="1146.9" y="938.3" font-size="28" text-anchor="end">15000</text>
<line x1="1155.8" y1="1064" x2="1170" y2="1064" stroke="#000" stroke-width="3.2" stroke-linecap="butt"/>
<text x="1146.9" y="1075.5" font-size="28" text-anchor="end">10000</text>
<line x1="1155.8" y1="1201.3" x2="1170" y2="1201.3" stroke="#000" stroke-width="3.2" stroke-linecap="butt"/>
<text x="1146.9" y="1212.8" font-size="28" text-anchor="end">5000</text>
<line x1="1155.8" y1="1338.5" x2="1170" y2="1338.5" stroke="#000" stroke-width="3.2" stroke-linecap="butt"/>
<text x="1146.9" y="1350" font-size="28" text-anchor="end">0</text>
<line x1="1155.8" y1="1338.5" x2="1992.8" y2="1338.5" stroke="#000" stroke-width="3.2" stroke-linecap="butt"/>
<line x1="1168.3" y1="1338.5" x2="1168.3" y2="1350.9" stroke="#000" stroke-width="3.2" stroke-linecap="butt"/>
<line x1="1236.88" y1="1338.5" x2="1236.88" y2="1345.7" stroke="#000" stroke-width="3.2" stroke-linecap="butt"/>
<line x1="1305.45" y1="1338.5" x2="1305.45" y2="1350.9" stroke="#000" stroke-width="3.2" stroke-linecap="butt"/>
<line x1="1374.02" y1="1338.5" x2="1374.02" y2="1345.7" stroke="#000" stroke-width="3.2" stroke-linecap="butt"/>
<line x1="1442.6" y1="1338.5" x2="1442.6" y2="1350.9" stroke="#000" stroke-width="3.2" stroke-linecap="butt"/>
<line x1="1511.17" y1="1338.5" x2="1511.17" y2="1345.7" stroke="#000" stroke-width="3.2" stroke-linecap="butt"/>
<line x1="1579.75" y1="1338.5" x2="1579.75" y2="1350.9" stroke="#000" stroke-width="3.2" stroke-linecap="butt"/>
<line x1="1648.32" y1="1338.5" x2="1648.32" y2="1345.7" stroke="#000" stroke-width="3.2" stroke-linecap="butt"/>
<line x1="1716.9" y1="1338.5" x2="1716.9" y2="1350.9" stroke="#000" stroke-width="3.2" stroke-linecap="butt"/>
<line x1="1785.47" y1="1338.5" x2="1785.47" y2="1345.7" stroke="#000" stroke-width="3.2" stroke-linecap="butt"/>
<line x1="1854.05" y1="1338.5" x2="1854.05" y2="1350.9" stroke="#000" stroke-width="3.2" stroke-linecap="butt"/>
<line x1="1922.62" y1="1338.5" x2="1922.62" y2="1345.7" stroke="#000" stroke-width="3.2" stroke-linecap="butt"/>
<line x1="1991.2" y1="1338.5" x2="1991.2" y2="1350.9" stroke="#000" stroke-width="3.2" stroke-linecap="butt"/>
<polyline points="1167.3,1334.42 1168.02,1335.09 1168.85,1334.69 1169.79,1335.2 1170.83,1335.23 1171.95,1333.99 1173.16,1333.86 1174.43,1335.65 1175.77,1334.37 1177.17,1334.29 1178.6,1335.95 1180.08,1334.77 1181.58,1335.56 1183.11,1334.75 1184.64,1335.08 1186.18,1333.99 1187.72,1335.03 1189.24,1335.52 1190.73,1334.73 1192.2,1335.19 1193.62,1335.01 1195,1333.64 1196.29,1335.14 1197.56,1334.75 1198.84,1334.08 1200.11,1333.46 1201.38,1335.26 1202.65,1334.37 1203.92,1334.88 1205.19,1335.2 1206.46,1334.81 1207.74,1335.23 1209.03,1334.04 1210.33,1334.9 1211.63,1334.08 1212.94,1335.12 1214.27,1334.95 1215.61,1333.19 1216.96,1333.24 1218.33,1333.37 1219.72,1334.97 1221.13,1333.76 1222.55,1334.13 1224,1333.36 1225.21,1333.77 1226.45,1333.46 1227.73,1333.34 1229.03,1333.82 1230.36,1333.77 1231.71,1334.43 1233.08,1333.9 1234.47,1334.4 1235.87,1334.2 1237.27,1334.45 1238.68,1333.69 1240.1,1332.53 1241.51,1334.01 1242.91,1334.19 1244.31,1334.01 1245.7,1333.21 1247.07,1333.47 1248.42,1332.31 1249.75,1333.61 1251.06,1332.98 1252.33,1332.28 1253.58,1331.73 1254.79,1333.39 1255.96,1333.62 1257.08,1331.56 1258.17,1333.04 1259.2,1332.1 1261.09,1331.37 1262.89,1331.52 1264.6,1332.39 1266.23,1332.45 1267.76,1330.44 1269.22,1331.51 1270.6,1330.06 1271.91,1331.32 1273.14,1330.24 1274.31,1331.21 1275.42,1331.17 1276.47,1329.84 1277.46,1330.62 1278.4,1328.78 1280.22,1327.5 1281.51,1327.89 1282.45,1325.78 1283.2,1325.1 1283.93,1324.26 1284.8,1323.04 1285.26,1321.17 1285.71,1320.02 1286.15,1320.9 1286.58,1318.7 1287.01,1319.08 1287.44,1317.85 1287.86,1315.54 1288.28,1314.47 1288.7,1313.26 1289.12,1312.1 1289.55,1310.45 1289.97,1308.71 1290.4,1307.06 1290.63,1306.74 1290.87,1304.71 1291.11,1303.41 1291.34,1302.88 1291.58,1300.6 1291.82,1299.49 1292.06,1299.69 1292.3,1297.36 1292.54,1296.08 1292.77,1293.53 1293.01,1293.02 1293.25,1291.98 1293.49,1289.32 1293.72,1289.2 1293.96,1287.79 1294.19,1285.09 1294.43,1284.9 1294.66,1283.1 1294.89,1282.14 1295.11,1279.99 1295.34,1279.36 1295.56,1278.04 1295.78,1275.1 1296,1273.83 1296.22,1273.85 1296.43,1273.13 1296.64,1270.21 1296.86,1269.3 1297.07,1268.23 1297.27,1266.25 1297.48,1264.97 1297.69,1263.48 1297.89,1262.23 1298.1,1261.35 1298.3,1259.33 1298.5,1258.13 1298.7,1257.64 1298.9,1254.64 1299.09,1254.48 1299.29,1253.51 1299.48,1251.25 1299.67,1249.74 1299.87,1249.72 1300.06,1247.19 1300.24,1245.81 1300.43,1245.1 1300.62,1244.45 1300.8,1241.92 1301.03,1240.9 1301.25,1239.43 1301.48,1239.05 1301.69,1236.72 1301.91,1236.18 1302.12,1233.24 1302.33,1232.2 1302.54,1231.49 1302.75,1230.63 1302.95,1228.32 1303.16,1226.48 1303.36,1224.94 1303.56,1224.54 1303.77,1222.52 1303.97,1222.63 1304.18,1221.47 1304.38,1218.83 1304.59,1217.86 1304.8,1217.88 1305.11,1215.86 1305.42,1214.6 1305.74,1211.99 1306.06,1209.96 1306.37,1208.81 1306.69,1208.45 1307.01,1205.9 1307.32,1204.73 1307.63,1203.63 1307.93,1202.45 1308.23,1201.32 1308.52,1201.44 1308.8,1198.84 1309.64,1196.19 1310.4,1196.78 1311.16,1195.86 1312,1195.87 1312.91,1194.99 1313.85,1197.09 1314.87,1198.55 1316,1198.99 1316.49,1201.09 1317,1202.36 1317.54,1203.16 1318.09,1204.11 1318.65,1204.94 1319.23,1206.43 1319.81,1207.59 1320.4,1208.66 1321,1211.21 1321.6,1211.93 1322.11,1214.22 1322.62,1213.69 1323.14,1216.74 1323.67,1217.45 1324.21,1219.14 1324.75,1220.27 1325.29,1221.48 1325.84,1221.99 1326.38,1221.98 1326.92,1224.83 1327.46,1224.82 1328,1226.36 1328.49,1228.34 1328.98,1229.24 1329.48,1230.23 1329.97,1232.62 1330.46,1233.16 1330.95,1233.82 1331.45,1234.89 1331.94,1237.49 1332.43,1237.89 1332.92,1239.81 1333.42,1240.08 1333.91,1240.95 1334.4,1242.88 1334.93,1244.76 1335.45,1244.58 1335.96,1247.17 1336.47,1248.68 1336.99,1249.63 1337.5,1250.86 1338.02,1250.25 1338.55,1252.8 1339.09,1254.49 1339.64,1253.87 1340.21,1255.53 1340.8,1256.69 1341.42,1258.44 1342.06,1259.4 1342.72,1260.71 1343.41,1262.58 1344.1,1262.07 1344.8,1263.37 1345.5,1264.69 1346.19,1265.83 1346.87,1266.81 1347.54,1269.86 1348.18,1270.62 1348.8,1269.89 1349.67,1272.16 1350.47,1273.03 1351.25,1274.22 1352,1275.42 1352.75,1277.13 1353.52,1277.98 1354.33,1278.42 1355.2,1278.92 1356.24,1280.1 1357.32,1280.39 1358.43,1281.98 1359.58,1282.92 1360.75,1282.77 1361.96,1282.74 1363.2,1283.69 1364.31,1284.88 1365.45,1286.23 1366.61,1287.52 1367.8,1287.54 1369.01,1289.34 1370.25,1289.77 1371.51,1290.07 1372.8,1290.52 1374.16,1291.25 1375.6,1292.1 1377.09,1291.79 1378.6,1292.63 1380.08,1292.28 1381.5,1291.89 1382.82,1292.54 1384,1292.83 1385.54,1291.18 1386.75,1291.45 1387.84,1290.78 1388.99,1290.96 1390.4,1290.16 1391.43,1288.28 1392.5,1288.7 1393.62,1287.67 1394.8,1285.68 1396.03,1285.26 1397.3,1283.65 1398.63,1284.31 1400,1283.16 1401.05,1283.09 1402.15,1282.34 1403.3,1281.55 1404.49,1281.19 1405.69,1280.3 1406.91,1278.76 1408.13,1279.27 1409.34,1277.4 1410.53,1277.07 1411.68,1277.77 1412.8,1275.4 1413.79,1274.76 1414.76,1274.02 1415.71,1274.96 1416.65,1272.61 1417.58,1271.43 1418.5,1272.35 1419.41,1269.84 1420.33,1270.46 1421.24,1269.06 1422.15,1268.32 1423.07,1267.42 1424,1265.37 1424.66,1264.94 1425.33,1262.3 1426,1262.9 1426.67,1261.29 1427.34,1260.66 1428.02,1258.21 1428.69,1258.49 1429.36,1257.74 1430.03,1254.64 1430.7,1254.03 1431.37,1253.36 1432.02,1252.73 1432.67,1250.23 1433.32,1248.88 1433.96,1247.83 1434.58,1247.44 1435.2,1246.56 1435.81,1244.58 1436.4,1243.32 1436.99,1242.18 1437.57,1240.85 1438.14,1239.77 1438.71,1237.8 1439.27,1237.47 1439.82,1237.26 1440.38,1234.78 1440.93,1234.27 1441.48,1231.74 1442.03,1231.67 1442.58,1230.58 1443.13,1229.18 1443.68,1227.62 1444.24,1226.35 1444.8,1225.51 1445.41,1224.81 1446.02,1221.88 1446.65,1220.45 1447.27,1220.57 1447.91,1219.62 1448.54,1217.43 1449.17,1215.96 1449.8,1215.28 1450.42,1212.85 1451.03,1211.8 1451.64,1210.46 1452.22,1210.16 1452.8,1208.48 1453.35,1207.26 1453.89,1207.31 1454.4,1207 1455.48,1203.77 1456.46,1203.19 1457.37,1201.3 1458.23,1201.23 1459.06,1199.74 1459.91,1198.24 1460.8,1197.38 1462.04,1196.04 1463.24,1196.36 1464.47,1195.69 1465.77,1194.96 1467.2,1195.29 1468.32,1195.22 1469.52,1196.28 1470.76,1195.05 1472.05,1197.18 1473.36,1196.49 1474.68,1197.37 1476,1197.93 1476.84,1199.4 1477.68,1200.12 1478.52,1200.37 1479.36,1201.11 1480.22,1202.62 1481.08,1203.97 1481.96,1204.07 1482.84,1205.96 1483.75,1207.67 1484.66,1207.84 1485.6,1208.61 1486.26,1209.54 1486.93,1211.58 1487.62,1212.51 1488.32,1214.2 1489.04,1215.06 1489.75,1214.83 1490.48,1215.86 1491.2,1217.17 1491.92,1218.18 1492.65,1220.49 1493.36,1221.99 1494.07,1223.24 1494.78,1222.97 1495.47,1225.44 1496.14,1225.32 1496.8,1226.63 1497.53,1228.5 1498.26,1228.27 1498.96,1229.47 1499.66,1232.27 1500.35,1232.24 1501.03,1233.54 1501.7,1235.18 1502.37,1236.52 1503.04,1236.18 1503.7,1238.03 1504.37,1239.37 1505.04,1240.58 1505.72,1241.07 1506.4,1242.99 1507.14,1244.97 1507.88,1244.88 1508.62,1246.36 1509.35,1246.56 1510.09,1248.03 1510.83,1250.01 1511.57,1249.9 1512.31,1252.7 1513.05,1253.84 1513.78,1253.13 1514.52,1256.06 1515.26,1255.87 1516,1257.8 1516.8,1258.9 1517.6,1259.01 1518.4,1260.97 1519.2,1262.04 1520,1263.48 1520.8,1263.38 1521.6,1265.53 1522.4,1267.04 1523.2,1267.44 1524,1268.15 1524.8,1268.2 1525.6,1269.99 1526.56,1270.77 1527.52,1272.63 1528.48,1273.56 1529.44,1274.29 1530.4,1274.4 1531.36,1276.35 1532.32,1277.23 1533.28,1277.13 1534.24,1279.58 1535.2,1279.94 1536.26,1279.75 1537.3,1282.51 1538.34,1281.74 1539.38,1283.11 1540.42,1284.89 1541.48,1285.5 1542.56,1286.24 1543.66,1287.22 1544.8,1287.51 1545.97,1287.81 1547.15,1288.05 1548.36,1288.28 1549.58,1290.13 1550.82,1290.6 1552.09,1290.51 1553.37,1291.32 1554.68,1290.87 1556,1291.08 1557.22,1291.75 1558.46,1293.23 1559.72,1291.82 1561,1293.25 1562.3,1293.09 1563.6,1294.65 1564.91,1294.14 1566.21,1294.48 1567.51,1295.02 1568.8,1295.69 1570.08,1296.54 1571.36,1295.93 1572.64,1297.31 1573.92,1295.97 1575.2,1296.6 1576.48,1296.5 1577.76,1296.84 1579.04,1298.63 1580.32,1298.89 1581.6,1298.11 1582.88,1298.59 1584.16,1299.61 1585.44,1300.89 1586.72,1301.64 1588,1302.1 1589.28,1302.36 1590.56,1301.98 1591.84,1303.12 1593.12,1303.22 1594.4,1304.46 1595.69,1305.03 1597.01,1304.7 1598.34,1305.27 1599.67,1306.89 1601,1305.67 1602.31,1307.77 1603.6,1308.35 1604.84,1308.82 1606.05,1307.88 1607.2,1308.52 1608.74,1308.91 1610.18,1309.32 1611.54,1310.31 1612.85,1309.83 1614.15,1309.03 1615.46,1310.2 1616.8,1309.16 1618,1309.11 1619.2,1308.95 1620.4,1306.82 1621.6,1307.9 1622.8,1306.98 1624,1305.88 1625.2,1305.21 1626.4,1304.31 1627.48,1302.97 1628.56,1302.81 1629.66,1300.74 1630.75,1300.75 1631.84,1300.08 1632.92,1298.74 1633.97,1298.24 1635,1298.53 1636,1298.06 1637.43,1296.45 1638.79,1298.47 1640.1,1298.97 1641.39,1298.7 1642.69,1300.28 1644,1300.61 1645.28,1300.65 1646.49,1301.97 1647.7,1303.05 1648.98,1301.82 1650.39,1303 1652,1302.43 1653.07,1301 1654.2,1302.32 1655.39,1301.43 1656.62,1301.76 1657.9,1300.88 1659.22,1300.47 1660.57,1299.12 1661.96,1299.65 1663.37,1299.44 1664.8,1298.8 1665.93,1297.48 1667.1,1297.77 1668.31,1296.73 1669.54,1295.46 1670.79,1294.85 1672.06,1294.46 1673.34,1294.26 1674.62,1293.71 1675.89,1293.99 1677.15,1294 1678.39,1293.23 1679.61,1292.59 1680.8,1292.73 1682.19,1291.56 1683.58,1291.5 1684.97,1291.73 1686.36,1290.54 1687.72,1289.67 1689.07,1290.91 1690.38,1290.22 1691.66,1289.2 1692.9,1289.03 1694.08,1289.28 1695.2,1289.41 1696.81,1288.75 1698.25,1288.61 1699.57,1289.56 1700.83,1291.45 1702.08,1290.77 1703.39,1292.27 1704.8,1292.53 1705.85,1293.19 1706.91,1293.81 1707.99,1295.07 1709.09,1295.34 1710.2,1295.86 1711.33,1296.89 1712.47,1297.89 1713.63,1299.46 1714.81,1299.38 1716,1300.15 1717.1,1301.86 1718.23,1302.57 1719.38,1304.03 1720.54,1303.42 1721.71,1305.02 1722.89,1305.84 1724.08,1305.84 1725.27,1308.72 1726.45,1307.87 1727.63,1308.36 1728.8,1309.94 1729.96,1309.98 1731.13,1311.69 1732.29,1311.76 1733.45,1311.94 1734.62,1312.44 1735.78,1314.57 1736.95,1314.21 1738.11,1315.97 1739.27,1315.89 1740.44,1317.53 1741.6,1316.76 1742.78,1317.27 1743.97,1317.93 1745.18,1319.76 1746.39,1319.97 1747.6,1319.96 1748.8,1320 1749.98,1321.88 1751.14,1323.08 1752.27,1322.8 1753.36,1322.02 1754.4,1322.57 1755.91,1323.44 1757.29,1324.34 1758.58,1324.74 1759.84,1325.39 1761.12,1327.25 1762.49,1328.2 1764,1326.94 1765.27,1328.74 1766.59,1327.65 1767.96,1328.29 1769.37,1328.39 1770.8,1328.25 1772.26,1326.03 1773.74,1326.4 1775.22,1326.84 1776.7,1327.38 1778.07,1325.32 1779.52,1325.59 1781,1326.63 1782.51,1324.81 1784.01,1325.21 1785.49,1324.87 1786.91,1325.41 1788.25,1325.72 1789.49,1323.83 1790.6,1324.83 1792.46,1324.38 1793.96,1324.2 1795.22,1323.12 1796.36,1323.31 1797.5,1321.2 1798.45,1320.4 1799.34,1318.96 1800.17,1319.01 1800.95,1317.04 1801.69,1315.08 1802.4,1313.17 1802.77,1313.38 1803.12,1312.08 1803.45,1311.21 1803.77,1309.35 1804.08,1308.37 1804.38,1306.38 1804.67,1306.29 1804.96,1303.41 1805.24,1302.96 1805.52,1302.12 1805.8,1300.39 1805.99,1298.02 1806.18,1297.23 1806.36,1297.44 1806.54,1295.86 1806.72,1295.22 1806.89,1294.02 1807.07,1291.87 1807.24,1291.6 1807.41,1289.96 1807.58,1287.76 1807.75,1286.47 1807.91,1284.41 1808.08,1283.67 1808.25,1283.39 1808.43,1279.95 1808.6,1279.35 1808.72,1277.23 1808.83,1276.01 1808.95,1276.09 1809.07,1273.98 1809.18,1272.33 1809.3,1271.3 1809.42,1271.1 1809.53,1269.67 1809.65,1267.09 1809.77,1266.23 1809.88,1266.5 1810,1263.48 1810.12,1262.86 1810.23,1261.15 1810.35,1260.55 1810.47,1258.75 1810.58,1257.74 1810.7,1255.76 1810.82,1253.58 1810.93,1252.14 1811.05,1250.5 1811.17,1250.73 1811.28,1247.75 1811.4,1246.15 1811.5,1246.98 1811.61,1244.02 1811.71,1244.28 1811.82,1241.22 1811.92,1240.76 1812.03,1238.92 1812.13,1238.95 1812.24,1237.16 1812.34,1235.9 1812.45,1234.83 1812.55,1233.75 1812.66,1231.26 1812.76,1230.49 1812.86,1228.81 1812.97,1226.74 1813.07,1227.01 1813.18,1225.15 1813.28,1224.31 1813.39,1221.65 1813.49,1221.06 1813.59,1219.59 1813.69,1218.87 1813.8,1216.14 1813.9,1215.45 1814,1214.48 1814.1,1212.31 1814.2,1212.12 1814.31,1211.11 1814.43,1209.01 1814.54,1208.09 1814.65,1206.58 1814.76,1204.29 1814.88,1203.16 1814.99,1203.16 1815.1,1200.29 1815.21,1199.09 1815.32,1196.92 1815.43,1195.81 1815.54,1194.31 1815.65,1194.63 1815.76,1192.82 1815.87,1191.8 1815.98,1190.73 1816.08,1188.61 1816.19,1188.03 1816.29,1185.91 1816.4,1184.42 1816.5,1184.39 1816.6,1183.12 1816.7,1182.09 1816.8,1179.97 1816.95,1179.02 1817.1,1176.88 1817.24,1177.06 1817.37,1175.93 1817.51,1173.69 1817.64,1174.3 1817.77,1171.85 1817.9,1170.81 1818.03,1171.23 1818.16,1169.18 1818.3,1168.37 1818.44,1167.06 1818.58,1163.87 1818.74,1163.19 1818.9,1159.51 1818.95,1158.97 1819,1157.86 1819.05,1157.79 1819.1,1156.82 1819.15,1154.79 1819.2,1153.34 1819.25,1152.69 1819.3,1151.83 1819.35,1149.96 1819.4,1148.97 1819.45,1149.12 1819.5,1147.77 1819.55,1147.14 1819.6,1145.89 1819.65,1144.39 1819.7,1141.98 1819.75,1140.19 1819.8,1139.19 1819.85,1138.17 1819.91,1136.94 1819.96,1135.59 1820.01,1133.79 1820.07,1133.46 1820.12,1130.79 1820.18,1129.75 1820.23,1129.24 1820.29,1127.62 1820.34,1125.04 1820.4,1123.45 1820.46,1123.23 1820.52,1120 1820.58,1118.8 1820.64,1118.2 1820.7,1116.74 1820.76,1114.45 1820.82,1112.72 1820.88,1111.59 1820.95,1111.37 1821.01,1109.24 1821.08,1108.91 1821.15,1107.04 1821.21,1106.03 1821.28,1102.52 1821.35,1101.43 1821.43,1099.65 1821.5,1099.17 1821.57,1097.59 1821.65,1095.59 1821.72,1095.33 1821.8,1093.01 1821.88,1092.16 1821.96,1090.68 1822.04,1090.56 1822.12,1088.36 1822.21,1086.66 1822.3,1084.82 1822.38,1084.29 1822.47,1083.35 1822.56,1082.08 1822.65,1081.21 1822.75,1079.6 1822.84,1076.97 1822.93,1075.33 1823.03,1075.3 1823.13,1073.97 1823.22,1071.96 1823.32,1071.27 1823.42,1069.25 1823.52,1067.25 1823.62,1065.61 1823.72,1063.88 1823.82,1063.87 1823.93,1063.04 1824.03,1061.67 1824.13,1059.32 1824.23,1058.38 1824.34,1057.59 1824.44,1055.97 1824.55,1054.14 1824.65,1052.37 1824.76,1051.26 1824.86,1049.15 1824.97,1047.85 1825.07,1047.63 1825.17,1047 1825.28,1044.72 1825.38,1043.13 1825.49,1041.72 1825.59,1040.68 1825.69,1040.2 1825.8,1038.18 1825.9,1038.07 1826,1035.09 1826.1,1034.24 1826.21,1033.51 1826.31,1032.11 1826.41,1031.92 1826.5,1030.74 1826.6,1029.85 1826.7,1028.05 1826.85,1025.13 1826.99,1024.73 1827.14,1023.1 1827.29,1021.42 1827.43,1019.45 1827.58,1018.9 1827.72,1017.89 1827.87,1014.67 1828.01,1014.5 1828.16,1012.46 1828.3,1011.41 1828.45,1010.9 1828.59,1009.72 1828.74,1007.71 1828.88,1005.44 1829.03,1005.77 1829.17,1002.89 1829.32,1002.09 1829.46,1001.85 1829.61,999.51 1829.75,998.22 1829.9,998.53 1830.04,997.34 1830.19,994.8 1830.33,993.81 1830.48,992.42 1830.62,990.94 1830.77,990.07 1830.91,990.55 1831.06,987.44 1831.21,986.65 1831.35,985.46 1831.5,984.07 1831.7,983.53 1831.9,982.52 1832.1,981.27 1832.3,979.38 1832.5,978.39 1832.7,975.22 1832.89,974.48 1833.09,974.64 1833.29,971.36 1833.49,970.5 1833.69,969.7 1833.89,967.96 1834.09,967.33 1834.29,964.99 1834.49,964.18 1834.7,964.55 1834.9,961.55 1835.11,962.02 1835.32,959.21 1835.53,959.81 1835.74,957.91 1835.96,956.64 1836.18,954.32 1836.4,952.92 1836.66,953.07 1836.92,950.38 1837.18,948.99 1837.45,948.96 1837.72,947.64 1837.99,944.4 1838.26,944.98 1838.54,942.63 1838.82,940.9 1839.1,938.91 1839.38,938.17 1839.66,938.14 1839.94,935.27 1840.23,933.66 1840.51,932.45 1840.79,931.2 1841.08,930.53 1841.36,930.65 1841.64,927.74 1841.92,926.98 1842.2,927.67 1842.79,925.91 1843.39,924.11 1844,920.88 1844.61,919.65 1845.21,919.65 1845.81,917.5 1846.41,917.04 1846.99,915.43 1847.55,914.26 1848.1,914.66 1848.85,915.52 1849.58,916.03 1850.28,916.42 1850.96,917.4 1851.63,919.1 1852.27,920.67 1852.9,922.88 1853.17,924.48 1853.43,924.09 1853.69,926.01 1853.94,927.87 1854.19,928.86 1854.43,928.61 1854.67,931.62 1854.91,932.67 1855.14,932.57 1855.38,934.21 1855.61,935.54 1855.85,936.73 1856.08,940.33 1856.32,940.68 1856.56,943.34 1856.8,943.35 1856.96,944.23 1857.11,947.23 1857.27,948.21 1857.42,949.8 1857.58,950.31 1857.74,951.16 1857.89,952.91 1858.05,952.66 1858.2,954.91 1858.36,955.97 1858.52,956.61 1858.67,958.92 1858.83,959.64 1858.98,961.39 1859.14,962.46 1859.3,963.72 1859.45,965.2 1859.61,967.14 1859.76,969.4 1859.92,970.75 1860.08,972.04 1860.23,973.45 1860.39,973.73 1860.54,976.74 1860.7,976.69 1860.82,977.53 1860.94,979.53 1861.05,981.22 1861.17,981.55 1861.29,983.43 1861.41,983.85 1861.53,986.59 1861.65,986.7 1861.76,988.01 1861.88,989.39 1862,991.42 1862.12,992.95 1862.24,993.23 1862.35,994.34 1862.47,996.03 1862.59,996.14 1862.71,998.24 1862.83,1000.49 1862.95,1001.67 1863.06,1001.43 1863.18,1004.52 1863.3,1004.83 1863.42,1007.49 1863.54,1007.49 1863.65,1008.51 1863.77,1010.6 1863.89,1012.69 1864.01,1013.06 1864.13,1015.37 1864.25,1016.39 1864.36,1016.98 1864.48,1018.2 1864.6,1020.01 1864.71,1021.02 1864.82,1022.22 1864.92,1024.09 1865.03,1025.84 1865.14,1026.47 1865.25,1026.78 1865.36,1028.22 1865.47,1029.83 1865.57,1031.66 1865.68,1031.9 1865.79,1033.06 1865.9,1034.89 1866.01,1036.1 1866.12,1036.85 1866.22,1039.27 1866.33,1041.42 1866.44,1041.88 1866.55,1043.63 1866.66,1045.15 1866.77,1046.48 1866.88,1047.96 1866.98,1048.24 1867.09,1050.08 1867.2,1050.16 1867.31,1053.15 1867.42,1053.36 1867.52,1054.89 1867.63,1057.11 1867.74,1057.1 1867.85,1058.2 1867.96,1060.9 1868.07,1061.71 1868.17,1061.89 1868.28,1063.06 1868.39,1065.08 1868.5,1065.62 1868.61,1068.77 1868.72,1068.68 1868.84,1070.23 1868.95,1071.84 1869.07,1073.47 1869.18,1074.67 1869.3,1076.47 1869.42,1077.91 1869.53,1078.79 1869.65,1079.42 1869.77,1082.74 1869.89,1083.49 1870,1083.53 1870.12,1085.69 1870.24,1087.76 1870.36,1089.65 1870.47,1088.99 1870.59,1090.23 1870.7,1092.63 1870.82,1093.86 1870.93,1096.25 1871.05,1097.44 1871.16,1097.69 1871.27,1099.21 1871.38,1100.89 1871.49,1102.87 1871.6,1102.67 1871.7,1104.38 1871.81,1104.99 1871.91,1107.47 1872.01,1107.38 1872.11,1110.62 1872.21,1110.94 1872.31,1112.26 1872.4,1112.39 1872.51,1114.19 1872.62,1116.18 1872.73,1118.49 1872.84,1119.23 1872.94,1120.09 1873.03,1123.04 1873.13,1123.73 1873.22,1124.83 1873.31,1125.49 1873.4,1127.06 1873.49,1129.73 1873.58,1129.38 1873.66,1131.58 1873.75,1133.09 1873.83,1133.81 1873.92,1136 1874,1137.59 1874.09,1138.74 1874.17,1139.73 1874.26,1139.8 1874.35,1140.71 1874.43,1142.76 1874.52,1143.7 1874.61,1144.64 1874.71,1147.32 1874.8,1147.05 1874.9,1149.55 1875,1150.96 1875.14,1150.68 1875.27,1153.9 1875.41,1154.21 1875.54,1155.22 1875.68,1156.54 1875.82,1157.57 1875.96,1159.92 1876.1,1160.99 1876.24,1163.31 1876.38,1164.55 1876.53,1164.12 1876.68,1166.14 1876.82,1167.37 1876.97,1168.15 1877.13,1169.57 1877.28,1170.85 1877.44,1173.06 1877.6,1173.55 1877.76,1174.33 1877.93,1175.87 1878.1,1177.67 1878.27,1179.27 1878.45,1179.9 1878.63,1182.24 1878.82,1182.51 1879,1184.86 1879.2,1186.07 1879.39,1186.46 1879.58,1189.07 1879.78,1189.63 1879.98,1191.29 1880.18,1192.76 1880.38,1194.16 1880.59,1195.09 1880.79,1195.56 1880.99,1198.49 1881.2,1199.97 1881.4,1200.46 1881.6,1201.95 1881.8,1202.55 1882,1205.21 1882.2,1206.01 1882.42,1206.37 1882.63,1209.06 1882.85,1210.8 1883.07,1210.76 1883.28,1213.54 1883.5,1213.76 1883.71,1214.43 1883.93,1216.94 1884.14,1217.44 1884.36,1219.62 1884.58,1220.6 1884.8,1220.85 1885.02,1223.07 1885.24,1225.06 1885.47,1225.52 1885.7,1226.93 1885.93,1228.9 1886.16,1229.24 1886.4,1230.58 1886.67,1232.17 1886.94,1234.07 1887.22,1234.07 1887.49,1235.18 1887.77,1237.99 1888.05,1238.87 1888.34,1239.65 1888.62,1242.26 1888.91,1243.55 1889.2,1244.09 1889.5,1246.36 1889.79,1247.3 1890.09,1248.37 1890.39,1248.63 1890.69,1249.26 1890.99,1251.96 1891.3,1253.32 1891.65,1253.85 1892,1255.51 1892.35,1257.07 1892.7,1257.73 1893.06,1260.06 1893.42,1261.1 1893.78,1262.03 1894.15,1262.72 1894.51,1264.99 1894.89,1265.74 1895.26,1267.89 1895.64,1267.91 1896.02,1269.61 1896.41,1270.36 1896.8,1272 1897.3,1273.8 1897.8,1274.17 1898.3,1275.43 1898.82,1277.72 1899.34,1278.42 1899.86,1280.38 1900.39,1280.9 1900.93,1281.98 1901.46,1284.15 1902.01,1286.17 1902.55,1287.2 1903.1,1287.53 1903.76,1288.57 1904.42,1289.1 1905.08,1290.78 1905.75,1292.03 1906.42,1294.54 1907.11,1293.81 1907.81,1296.69 1908.52,1296.66 1909.25,1297.53 1910,1298.08 1910.95,1300.7 1911.91,1299.98 1912.89,1301.75 1913.89,1302.47 1914.92,1302.6 1916,1303.44 1917.12,1305.89 1918.3,1306.24 1919.41,1306.79 1920.58,1307.82 1921.79,1306.68 1923.04,1308.63 1924.31,1309.33 1925.59,1308.76 1926.87,1309.85 1928.15,1311.57 1929.4,1310.72 1930.63,1312.26 1931.83,1311.55 1933.03,1313.25 1934.23,1312.97 1935.44,1314.07 1936.67,1314.32 1937.93,1315.93 1939.24,1316.12 1940.6,1316.01 1941.87,1316.74 1943.19,1316.44 1944.55,1317.51 1945.93,1316.51 1947.33,1317.33 1948.75,1317.59 1950.17,1317.32 1951.59,1316.73 1953,1317.18 1954.4,1318.41 1955.8,1317.67 1957.22,1319.07 1958.65,1318.71 1960.09,1319.9 1961.52,1319.87 1962.94,1319.8 1964.33,1319.22 1965.7,1318.69 1967.02,1320.02 1968.3,1320.64 1969.82,1321.3 1971.27,1320.01 1972.66,1320.22 1974.02,1322.33 1975.35,1322.09 1976.68,1321.79 1978.03,1322.56 1979.4,1321.43 1980.87,1322.4 1982.46,1322.72 1984.08,1322.58 1985.69,1321.59 1987.22,1321.49 1988.59,1322.52 1989.74,1323.06 1990.6,1321.4" fill="none" stroke="#1994f4" stroke-width="3.9" stroke-linejoin="miter" stroke-miterlimit="3" stroke-linecap="butt"/>
<polyline points="1167.3,1338 1168.21,1338 1169.43,1338 1170.9,1337.8 1172.53,1338 1174.26,1338 1176,1337.34 1177.16,1338 1178.35,1336.92 1179.57,1337.63 1180.83,1336.51 1182.14,1336.3 1183.51,1336.85 1184.93,1337.58 1186.43,1335.67 1188,1335.74 1189.14,1336.6 1190.33,1337.29 1191.56,1336.32 1192.83,1335.82 1194.13,1337.15 1195.45,1334.86 1196.8,1336.76 1198.16,1335.35 1199.53,1334.95 1200.91,1334.84 1202.28,1335.25 1203.65,1336.42 1205,1334.83 1206.38,1335.74 1207.82,1335.82 1209.31,1335.14 1210.83,1335.51 1212.35,1334.31 1213.87,1334.25 1215.37,1334.56 1216.83,1335.64 1218.24,1334.98 1219.58,1334.63 1220.83,1335.21 1221.97,1334.8 1223,1334.32 1225.09,1335.09 1226.54,1334.31 1227.66,1332.65 1228.71,1332.99 1230,1332.66 1231.16,1333.58 1232.22,1333.49 1233.31,1332.8 1234.56,1334.88 1236.08,1333.19 1238,1334.2 1239.07,1335.11 1240.26,1333.74 1241.55,1334.63 1242.93,1333.61 1244.38,1335.18 1245.87,1335.47 1247.39,1335.06 1248.91,1335.84 1250.43,1334.54 1251.91,1335.5 1253.35,1335.31 1254.72,1335.33 1256,1335.09 1257.59,1336.1 1259.17,1336.46 1260.71,1335.44 1262.22,1336.01 1263.69,1334.67 1265.1,1336.31 1266.44,1336.26 1267.71,1337.15 1268.9,1336.77 1270,1335.48 1271.86,1335.66 1273.34,1336.2 1274.59,1334.43 1275.76,1335.16 1277,1334 1278.31,1333.32 1279.6,1332.54 1280.86,1333.47 1282.06,1331.01 1283.2,1330.19 1283.97,1329.68 1284.7,1329.93 1285.4,1327.06 1286.07,1326.88 1286.73,1325.9 1287.37,1325.32 1288,1323.57 1288.36,1322.66 1288.71,1320.21 1289.06,1319.46 1289.39,1318.19 1289.72,1318.27 1290.05,1317.2 1290.37,1313.94 1290.7,1312.6 1291.02,1311.24 1291.34,1309.66 1291.67,1308.57 1292,1307.01 1292.18,1305.19 1292.36,1303.48 1292.55,1303.35 1292.73,1302.07 1292.91,1301.35 1293.09,1301.04 1293.27,1299.15 1293.45,1297.44 1293.64,1296.37 1293.82,1295.18 1294,1292.33 1294.18,1292.99 1294.36,1291.32 1294.55,1290.15 1294.73,1288.56 1294.91,1286.17 1295.09,1284.78 1295.27,1282.65 1295.45,1282.52 1295.64,1279.74 1295.82,1278.35 1296,1277.3 1296.17,1275.92 1296.34,1275.06 1296.51,1273.08 1296.68,1271.65 1296.85,1270.71 1297.02,1269.27 1297.19,1268.57 1297.36,1266.43 1297.54,1267.13 1297.71,1265.17 1297.88,1262.71 1298.05,1261.61 1298.22,1260.48 1298.39,1259.17 1298.56,1257.24 1298.73,1257.62 1298.89,1256.61 1299.06,1253.99 1299.22,1252.68 1299.38,1250.38 1299.54,1249.07 1299.69,1248.3 1299.85,1246.77 1300,1246.79 1300.15,1243.85 1300.29,1242.16 1300.43,1243.03 1300.57,1240.64 1300.71,1238.35 1300.84,1237.92 1300.97,1235.29 1301.1,1235.1 1301.22,1234.8 1301.35,1233.13 1301.47,1231.35 1301.6,1228.93 1301.73,1227.81 1301.85,1225.97 1301.98,1226.07 1302.1,1224.15 1302.23,1223.42 1302.36,1221.03 1302.49,1219.48 1302.63,1219.62 1302.77,1218.78 1302.91,1217.23 1303.05,1215.91 1303.2,1214.76 1303.4,1213.03 1303.61,1210.26 1303.82,1209.43 1304.04,1207.54 1304.25,1205.27 1304.47,1203.8 1304.7,1202.96 1304.92,1201.5 1305.15,1201.16 1305.38,1200.45 1305.61,1197.91 1305.84,1197.8 1306.07,1196.69 1306.3,1195.41 1306.52,1192.84 1306.75,1191.39 1306.98,1190.35 1307.2,1189.27 1307.65,1187.44 1308.1,1186.78 1308.56,1185.95 1309.02,1184.48 1309.48,1182.42 1309.93,1181.77 1310.36,1181.17 1310.79,1178.59 1311.2,1179.19 1312.33,1178.18 1313.36,1177.26 1314.4,1177 1315.95,1176.55 1317.6,1177.23 1318.21,1179.49 1318.84,1179.32 1319.5,1181.52 1320.18,1183.19 1320.88,1183.27 1321.6,1184.96 1322.01,1187.3 1322.42,1187.9 1322.85,1187.77 1323.29,1188.94 1323.73,1190.33 1324.17,1193.51 1324.62,1194.68 1325.07,1194.51 1325.52,1197.57 1325.96,1199.36 1326.4,1199.98 1326.8,1200.51 1327.2,1202.25 1327.6,1202.53 1328,1203.53 1328.4,1207.12 1328.8,1207.66 1329.2,1208.69 1329.6,1211.01 1330,1211.18 1330.4,1213.62 1330.8,1214.93 1331.2,1214.91 1331.52,1216.19 1331.85,1217.49 1332.17,1218.59 1332.5,1220.66 1332.83,1221.13 1333.16,1222.78 1333.49,1223.37 1333.81,1226.53 1334.14,1226.5 1334.46,1228.06 1334.78,1229.68 1335.09,1231.78 1335.4,1231.94 1335.7,1234.47 1336,1234.8 1336.27,1236.14 1336.54,1237.39 1336.8,1237.47 1337.06,1239.78 1337.31,1240.48 1337.56,1241.36 1337.81,1244.59 1338.05,1244.41 1338.29,1246.46 1338.54,1248.39 1338.78,1249.3 1339.02,1250.06 1339.26,1251.82 1339.51,1253.2 1339.75,1255.02 1340,1254.65 1340.27,1257.07 1340.53,1257.65 1340.79,1259.03 1341.05,1261.53 1341.3,1262.2 1341.56,1263.62 1341.82,1265.38 1342.08,1267.03 1342.34,1267.18 1342.61,1268.85 1342.88,1269.85 1343.15,1271.12 1343.43,1272.79 1343.71,1273.46 1344,1274.88 1344.32,1276.07 1344.64,1278.53 1344.98,1279.3 1345.31,1281.08 1345.66,1282.59 1346,1282.3 1346.35,1284.34 1346.7,1286.56 1347.05,1287.59 1347.41,1287.13 1347.76,1288.28 1348.11,1290.18 1348.46,1290.37 1348.8,1291.78 1349.4,1293.08 1350,1296.2 1350.6,1298.08 1351.2,1299.8 1351.8,1299.27 1352.4,1301.6 1353,1302.12 1353.6,1301.14 1354.26,1302.58 1354.88,1301.79 1355.49,1298.55 1356.12,1298.63 1356.8,1295.6 1357.55,1294.29 1358.4,1294.38 1359.53,1293.08 1360.77,1290.73 1362.1,1290.79 1363.5,1290.54 1364.94,1289.8 1366.4,1289.27 1367.7,1289.52 1369.07,1290.57 1370.49,1289.07 1371.91,1290.62 1373.33,1290.69 1374.7,1290.05 1376,1291.2 1377.43,1292.43 1378.79,1292.78 1380.1,1292.4 1381.39,1295.34 1382.69,1295.6 1384,1296.73 1385.33,1295.39 1386.67,1296.61 1388,1296.9 1389.33,1299.41 1390.67,1298.75 1392,1298.71 1393.31,1299.43 1394.61,1300.41 1395.9,1299.82 1397.21,1297.95 1398.57,1297.06 1400,1298.21 1401.12,1296.74 1402.29,1296.31 1403.48,1294 1404.7,1293.04 1405.93,1293.65 1407.16,1292.15 1408.39,1290.49 1409.6,1291.85 1410.8,1290.47 1412,1290.22 1413.2,1287.88 1414.4,1289.15 1415.6,1286.74 1416.8,1288.22 1418,1286.9 1419.2,1286.41 1420.57,1286.95 1421.94,1288.18 1423.31,1287.08 1424.69,1287.26 1426.06,1288.6 1427.43,1288.04 1428.8,1287.46 1429.76,1287.14 1430.72,1286.26 1431.68,1285.88 1432.64,1285.29 1433.6,1284.33 1434.56,1284.41 1435.52,1282.24 1436.48,1281.68 1437.44,1279.85 1438.4,1279.23 1439.27,1277.52 1440.15,1277.13 1441.02,1275.6 1441.89,1276.33 1442.76,1274.88 1443.64,1272.99 1444.51,1272.63 1445.38,1272.68 1446.25,1269.62 1447.13,1270.25 1448,1268.24 1448.8,1267.35 1449.61,1267.06 1450.42,1264.85 1451.23,1263.94 1452.04,1263.19 1452.85,1262.71 1453.66,1260.01 1454.46,1260.07 1455.26,1258.71 1456.05,1257.57 1456.83,1256.13 1457.6,1255.23 1458.91,1253.47 1460.22,1252.84 1461.51,1252.08 1462.78,1253.22 1464.03,1251.68 1465.23,1251.13 1466.4,1250.6 1467.89,1251.93 1469.24,1251.59 1470.57,1250.83 1471.98,1249.84 1473.6,1249.98 1474.74,1250.4 1475.96,1251.2 1477.23,1250.98 1478.55,1252.26 1479.9,1252.5 1481.27,1254.94 1482.64,1255.81 1484,1255.71 1484.98,1255.73 1485.97,1258.28 1486.95,1257.59 1487.95,1258.64 1488.95,1258.76 1489.96,1260.68 1490.98,1261.93 1492.01,1263.02 1493.06,1263.32 1494.12,1265.05 1495.2,1264.81 1496.21,1266.31 1497.24,1266.78 1498.29,1268.42 1499.35,1268.46 1500.42,1269.31 1501.5,1270.88 1502.59,1271.6 1503.67,1273.32 1504.76,1274.04 1505.85,1275.41 1506.93,1276 1508,1276.92 1509.18,1278.13 1510.37,1277.76 1511.58,1278.38 1512.79,1280.72 1514,1279.45 1515.2,1281.55 1516.38,1282.05 1517.54,1281.3 1518.67,1283.88 1519.76,1284.68 1520.8,1284.71 1522.14,1285.85 1523.39,1286.9 1524.56,1286.12 1525.7,1287.86 1526.82,1288.6 1527.96,1290.15 1529.15,1290.82 1530.4,1291.58 1531.57,1291.64 1532.78,1293.02 1534.01,1293.16 1535.27,1293.81 1536.53,1293.29 1537.81,1293.35 1539.08,1294.06 1540.35,1294.99 1541.6,1294.65 1543,1296.59 1544.4,1295.99 1545.8,1296.12 1547.2,1296 1548.6,1295.96 1550,1295.27 1551.4,1293.86 1552.8,1295.51 1554.16,1295.1 1555.45,1294.14 1556.72,1293.79 1558,1293.63 1559.33,1291.75 1560.75,1292.91 1562.29,1291.35 1564,1290.58 1565.15,1290.85 1566.39,1291.78 1567.69,1290.33 1569.05,1291.43 1570.45,1291.83 1571.88,1290.51 1573.32,1290.1 1574.77,1290.2 1576.21,1290.59 1577.63,1290.7 1579,1290.29 1580.33,1290.33 1581.6,1288.99 1583.03,1289.22 1584.41,1289.59 1585.76,1290.93 1587.07,1290.08 1588.36,1290.94 1589.63,1289.86 1590.9,1290.25 1592.16,1291.02 1593.43,1292.27 1594.7,1292.6 1596,1292.82 1597.33,1292.17 1598.68,1293.02 1600.06,1293.22 1601.44,1293.56 1602.82,1293.07 1604.18,1295.26 1605.52,1293.92 1606.82,1296.08 1608.07,1296.25 1609.27,1294.27 1610.4,1295.5 1612.04,1296.58 1613.54,1297.1 1614.93,1295.95 1616.25,1295.55 1617.51,1295.35 1618.75,1296.95 1620,1294.91 1621.23,1295.38 1622.4,1293.79 1623.54,1294.06 1624.66,1294.36 1625.76,1291.6 1626.87,1292.42 1628,1290.82 1628.98,1290.9 1629.93,1289.51 1630.86,1287.35 1631.8,1287.9 1632.77,1285.9 1633.77,1283.87 1634.85,1283.02 1636,1283.58 1637.26,1283.12 1638.61,1282.62 1640.04,1282.25 1641.5,1282.83 1642.98,1282.85 1644.44,1284.12 1645.85,1281.97 1647.2,1283.4 1648.34,1283.07 1649.44,1280.64 1650.52,1281.75 1651.58,1280.33 1652.62,1279.84 1653.66,1277.44 1654.7,1276.75 1655.74,1276 1656.8,1276.8 1658.2,1275.15 1659.64,1274.06 1661.08,1273.78 1662.51,1273.02 1663.89,1272.11 1665.2,1271.87 1666.4,1273.2 1667.88,1271.09 1669.19,1271.7 1670.39,1269.19 1671.57,1268.66 1672.8,1269.23 1673.83,1269.04 1674.81,1270.56 1675.8,1273.29 1676.83,1274.51 1677.95,1275.54 1679.2,1275.91 1680.39,1276.87 1681.66,1276.91 1683.01,1275.79 1684.41,1275.96 1685.85,1274.18 1687.32,1275.84 1688.8,1275.48 1689.86,1276.63 1690.96,1276.93 1692.09,1276.72 1693.24,1276.88 1694.4,1279.77 1695.56,1278.68 1696.71,1280.35 1697.84,1280.87 1698.94,1281.56 1700,1283.37 1701.14,1284.76 1702.24,1283.87 1703.32,1285.66 1704.38,1285.65 1705.42,1287.1 1706.46,1287.52 1707.5,1287.76 1708.54,1288.49 1709.6,1289.3 1710.8,1291.66 1712,1291.27 1713.2,1291.13 1714.4,1293.28 1715.6,1294 1716.8,1293.25 1718,1293.16 1719.2,1294.06 1720.15,1294.54 1721.09,1295.94 1722.03,1296.19 1722.96,1297.44 1723.9,1298.42 1724.84,1300.11 1725.8,1301.82 1726.78,1302.43 1727.78,1302.53 1728.8,1303.39 1729.86,1304.5 1730.94,1305.01 1732.04,1305.77 1733.16,1305.96 1734.3,1307.32 1735.44,1309.79 1736.59,1308.56 1737.73,1310.23 1738.87,1311.24 1740,1312.47 1741.24,1311.61 1742.46,1312.39 1743.67,1312.95 1744.89,1313.89 1746.11,1314.53 1747.35,1316.25 1748.6,1316.45 1749.89,1316.92 1751.2,1315.25 1752.58,1315.62 1754.03,1317.54 1755.53,1318.25 1757.04,1317.46 1758.55,1317.92 1760.03,1316.65 1761.45,1317.69 1762.78,1319.02 1764,1318.78 1765.61,1318.74 1767.02,1318.78 1768.3,1316.7 1769.51,1315.95 1770.72,1315.61 1772,1316.05 1773.3,1315.98 1774.57,1316.1 1775.84,1315.04 1777.14,1314.31 1778.52,1314.02 1780,1312.7 1781.22,1312.48 1782.52,1310.79 1783.89,1312.11 1785.28,1310.31 1786.68,1311.48 1788.05,1310.33 1789.37,1309.02 1790.6,1308.11 1791.94,1307.88 1793.26,1308.32 1794.54,1308 1795.76,1306.09 1796.9,1305.41 1797.95,1305.81 1798.9,1305.1 1799.71,1303.64 1800.4,1302.14 1800.98,1301.84 1801.51,1299.12 1801.99,1298.42 1802.48,1297.3 1803,1296.9 1803.34,1295.09 1803.68,1294.58 1804.02,1292.48 1804.35,1290.75 1804.67,1289.59 1804.99,1290.06 1805.3,1288.16 1805.61,1285.86 1805.91,1283.76 1806.21,1283.44 1806.5,1282.32 1806.69,1280.61 1806.89,1279.1 1807.07,1278.93 1807.26,1278.37 1807.44,1275.49 1807.62,1273.79 1807.79,1273.27 1807.97,1272.18 1808.14,1271.49 1808.31,1268.99 1808.48,1269.06 1808.64,1267.53 1808.81,1265.54 1808.97,1263.37 1809.14,1263.73 1809.3,1260.65 1809.42,1260.7 1809.54,1258.08 1809.67,1256.83 1809.79,1256.87 1809.9,1254.47 1810.02,1254.75 1810.14,1252.34 1810.25,1250.27 1810.37,1249.01 1810.48,1248.11 1810.59,1247.34 1810.71,1246.65 1810.82,1243.35 1810.93,1242.56 1811.04,1240.75 1811.15,1241.2 1811.26,1237.83 1811.37,1236.25 1811.48,1234.92 1811.59,1234.37 1811.7,1234.26 1811.81,1232.9 1811.92,1231.22 1812.03,1230.53 1812.14,1229.05 1812.24,1226.29 1812.35,1224.63 1812.46,1225.11 1812.57,1223.34 1812.67,1220.3 1812.78,1220.5 1812.88,1218.5 1812.99,1217.17 1813.09,1215.75 1813.2,1214.04 1813.3,1212.33 1813.4,1211.67 1813.5,1210.52 1813.6,1210.65 1813.7,1207.34 1813.8,1208.04 1813.9,1204.9 1814,1203.92 1814.09,1203.69 1814.19,1202.32 1814.28,1200 1814.37,1197.69 1814.46,1197.31 1814.55,1195.66 1814.64,1195.57 1814.72,1192.43 1814.81,1191.45 1814.9,1191.34 1814.99,1187.89 1815.08,1187.45 1815.16,1187.08 1815.25,1185.66 1815.34,1182.63 1815.43,1181.36 1815.52,1180.2 1815.61,1181.07 1815.71,1178.32 1815.8,1178.39 1815.95,1177.19 1816.1,1174.61 1816.25,1173.45 1816.41,1174.27 1816.56,1172.7 1816.71,1171.11 1816.87,1171.39 1817.02,1169.47 1817.19,1168.17 1817.36,1166.01 1817.53,1165.91 1817.71,1163.92 1817.9,1160.32 1817.95,1160.2 1818,1157.1 1818.05,1156.66 1818.1,1156.26 1818.15,1156.41 1818.2,1155.35 1818.26,1152.91 1818.31,1151.47 1818.36,1150.75 1818.41,1149.73 1818.47,1149.57 1818.52,1146.55 1818.57,1146.78 1818.63,1145.35 1818.68,1144.25 1818.73,1142.8 1818.79,1141.06 1818.84,1139.03 1818.9,1137.63 1818.95,1136.33 1819.01,1135.93 1819.07,1132.82 1819.12,1131.66 1819.18,1131.55 1819.24,1128.87 1819.3,1126.97 1819.35,1125.42 1819.41,1125.19 1819.47,1123.16 1819.53,1123.25 1819.59,1121.53 1819.65,1120.29 1819.71,1117.07 1819.77,1115.16 1819.83,1113.71 1819.89,1113.2 1819.95,1112.24 1820.02,1110.15 1820.08,1108.19 1820.14,1107.19 1820.21,1106.26 1820.27,1104.97 1820.34,1103.75 1820.4,1102.61 1820.47,1100.81 1820.53,1098.16 1820.6,1098.56 1820.66,1095.94 1820.73,1095.32 1820.8,1093.6 1820.88,1093.06 1820.96,1090.36 1821.03,1089.07 1821.11,1087.66 1821.19,1086.04 1821.27,1086.4 1821.35,1084.27 1821.43,1082.28 1821.52,1081.06 1821.6,1081.11 1821.68,1078.57 1821.76,1076.53 1821.85,1076.55 1821.93,1074.81 1822.02,1074.26 1822.1,1070.77 1822.19,1070.31 1822.27,1069.78 1822.36,1068.49 1822.45,1067.33 1822.54,1063.89 1822.62,1063.17 1822.71,1061.42 1822.8,1060.27 1822.89,1060.83 1822.98,1058.58 1823.07,1058.1 1823.17,1055.46 1823.26,1055.34 1823.35,1053.05 1823.44,1051.31 1823.54,1051.26 1823.63,1050.39 1823.73,1047.1 1823.82,1047 1823.92,1045.8 1824.01,1043.57 1824.11,1042.68 1824.21,1040.89 1824.3,1039.8 1824.4,1038.69 1824.5,1038.28 1824.6,1037.18 1824.7,1034.89 1824.82,1032.98 1824.94,1032.3 1825.06,1031.7 1825.19,1029.08 1825.31,1027.96 1825.44,1026.27 1825.57,1026.27 1825.69,1024.26 1825.82,1021.69 1825.96,1020.37 1826.09,1019.68 1826.22,1018.66 1826.35,1017.49 1826.49,1014.79 1826.62,1013.59 1826.75,1013.51 1826.89,1011.47 1827.03,1009.82 1827.16,1008.54 1827.3,1008.76 1827.43,1005.91 1827.57,1005.21 1827.71,1003.41 1827.85,1002.27 1827.98,1002.07 1828.12,1001.12 1828.26,998.35 1828.39,996.71 1828.53,996.76 1828.66,994.29 1828.8,992.61 1828.93,993.58 1829.07,991.26 1829.2,991.05 1829.34,988.91 1829.47,988.93 1829.6,986.81 1829.79,984.48 1829.99,982.55 1830.18,982.3 1830.37,981.01 1830.56,980.19 1830.76,976.78 1830.95,976.65 1831.14,974.67 1831.33,973.63 1831.52,971.44 1831.71,970.46 1831.9,969.74 1832.1,969.44 1832.29,966.23 1832.48,965.91 1832.67,965.43 1832.86,964.6 1833.05,961.55 1833.24,960.18 1833.44,960.94 1833.63,959.83 1833.82,957.45 1834.01,955.23 1834.21,956.12 1834.4,953.63 1834.63,953.45 1834.86,951.36 1835.09,950.46 1835.31,947.49 1835.54,947.63 1835.77,944.93 1835.99,944.03 1836.22,943.78 1836.45,942.43 1836.67,939.58 1836.9,938.38 1837.13,937.55 1837.36,936.57 1837.6,934.99 1837.83,933.12 1838.07,932.18 1838.31,932.1 1838.55,931.29 1838.8,928.02 1839.05,928.06 1839.3,927.32 1839.6,924.17 1839.91,924.64 1840.23,921.44 1840.55,921.11 1840.88,919.5 1841.21,918.2 1841.55,915.96 1841.89,914.78 1842.22,913.74 1842.56,911.98 1842.9,911.19 1843.23,909.39 1843.56,908.13 1843.88,905.97 1844.2,906.31 1844.51,905 1844.81,903.48 1845.1,903.93 1846.34,901.4 1847.51,899.42 1848.59,898.46 1849.6,899.34 1850.33,898.76 1850.98,899.42 1851.59,901.19 1852.22,901.99 1852.9,905.16 1853.13,906.21 1853.35,906.04 1853.58,908.49 1853.81,908.24 1854.04,910.95 1854.27,912.26 1854.51,912.89 1854.75,913.11 1854.99,915.57 1855.24,916.7 1855.49,919.57 1855.74,919.16 1856,922.48 1856.26,924.46 1856.53,925.52 1856.8,927.46 1856.96,927.03 1857.13,930.01 1857.31,929.95 1857.48,932.21 1857.66,933.29 1857.84,932.69 1858.02,935.4 1858.21,936.99 1858.4,936.17 1858.58,938.14 1858.77,940.41 1858.96,940.29 1859.15,943.39 1859.35,943.24 1859.54,945.89 1859.73,945.64 1859.92,947.87 1860.1,950.25 1860.29,949.92 1860.48,951.44 1860.66,953.41 1860.84,954.35 1861.02,955.07 1861.19,956.8 1861.37,958.14 1861.54,961.38 1861.7,962.13 1861.85,963.88 1861.99,963.37 1862.13,966.08 1862.27,965.71 1862.41,967.94 1862.55,969.43 1862.68,970.01 1862.81,972.49 1862.95,972.97 1863.08,974.28 1863.21,976.27 1863.34,975.66 1863.46,979.06 1863.59,979.46 1863.72,980.17 1863.84,982.42 1863.97,982.44 1864.1,985.48 1864.22,985.79 1864.34,986.58 1864.47,988.88 1864.59,989.43 1864.72,990.14 1864.84,992.85 1864.97,992.54 1865.09,995.77 1865.22,995.79 1865.34,998.11 1865.47,1000.34 1865.6,1000.81 1865.71,1002.22 1865.82,1002.6 1865.93,1003.09 1866.03,1004.4 1866.14,1005.93 1866.24,1008.29 1866.35,1009.11 1866.45,1010.56 1866.56,1012.75 1866.66,1012.18 1866.76,1013.69 1866.87,1016 1866.97,1015.77 1867.07,1017.02 1867.18,1019.17 1867.28,1019.88 1867.39,1021.8 1867.49,1022.81 1867.59,1025 1867.7,1026.35 1867.81,1026.77 1867.91,1029.14 1868.02,1030.14 1868.13,1030.69 1868.24,1033.99 1868.35,1033.72 1868.46,1034.89 1868.57,1036.16 1868.69,1038.87 1868.8,1040.85 1868.92,1042.07 1869.04,1042.59 1869.16,1043.71 1869.28,1044.56 1869.4,1047.55 1869.5,1048.55 1869.61,1049.26 1869.71,1051.2 1869.82,1051.96 1869.93,1054.39 1870.03,1055.17 1870.14,1055.27 1870.26,1058.13 1870.37,1057.36 1870.48,1059.82 1870.6,1060.83 1870.71,1061.74 1870.83,1062.63 1870.95,1065.69 1871.06,1065.18 1871.18,1067.81 1871.3,1070.08 1871.42,1069.51 1871.54,1071 1871.66,1073.33 1871.78,1074.44 1871.9,1076.12 1872.02,1077.89 1872.14,1077.71 1872.26,1079.39 1872.38,1080.72 1872.49,1081.47 1872.61,1084.84 1872.73,1085.94 1872.85,1087.12 1872.97,1086.76 1873.08,1090.11 1873.2,1091.21 1873.31,1091.87 1873.43,1093.86 1873.54,1094.48 1873.65,1095.25 1873.76,1096.26 1873.87,1097.86 1873.98,1098.69 1874.09,1100.68 1874.2,1102.94 1874.3,1104.07 1874.41,1105.82 1874.53,1106.9 1874.64,1107.25 1874.75,1109.38 1874.87,1110.53 1874.98,1112.83 1875.09,1113.65 1875.2,1114.5 1875.32,1116.87 1875.43,1119.12 1875.54,1118.8 1875.65,1121.86 1875.76,1121.26 1875.86,1123.32 1875.97,1124.72 1876.08,1127.4 1876.19,1129.33 1876.29,1130.29 1876.4,1130.71 1876.5,1133.46 1876.61,1133.53 1876.71,1134.71 1876.81,1137.68 1876.91,1138.36 1877.01,1139.84 1877.11,1141.09 1877.21,1143.12 1877.31,1143.16 1877.4,1145.28 1877.5,1146.15 1877.59,1147.71 1877.68,1147.84 1877.78,1149.64 1877.87,1150.35 1877.96,1150.76 1878.04,1151.54 1878.13,1153.49 1878.22,1153.1 1878.3,1155.99 1878.56,1156.69 1878.79,1158.5 1879.01,1160.39 1879.21,1163.74 1879.4,1163.48 1879.58,1163.95 1879.76,1164.53 1879.95,1165.37 1880.14,1167.79 1880.34,1168.6 1880.56,1169.89 1880.8,1171.37 1880.99,1170.92 1881.18,1173.39 1881.38,1174.08 1881.59,1176.43 1881.8,1177.72 1882.01,1179.21 1882.22,1178.55 1882.44,1181.82 1882.67,1183.28 1882.89,1184.71 1883.12,1184.06 1883.35,1185.66 1883.59,1186.78 1883.82,1187.94 1884.06,1191.22 1884.3,1192.45 1884.54,1193.33 1884.79,1195.1 1885.05,1195.96 1885.3,1196.46 1885.56,1197.34 1885.83,1198.66 1886.09,1201.57 1886.36,1201.57 1886.63,1203.16 1886.9,1204.72 1887.17,1205.05 1887.44,1206.91 1887.71,1208.25 1887.98,1210.55 1888.24,1210.96 1888.5,1212.07 1888.79,1214.99 1889.08,1215.25 1889.37,1217.43 1889.66,1218.2 1889.94,1218.1 1890.22,1220.32 1890.51,1221.66 1890.79,1223.74 1891.08,1223.99 1891.37,1226.11 1891.67,1226.96 1891.97,1227.44 1892.28,1230.23 1892.6,1229.62 1892.95,1232.7 1893.3,1232.47 1893.66,1233.39 1894.03,1235.19 1894.39,1237.85 1894.77,1239.66 1895.15,1238.62 1895.53,1241.06 1895.91,1242.32 1896.31,1244.3 1896.7,1244.05 1897.1,1246 1897.5,1246.83 1897.98,1249.38 1898.48,1249.37 1898.98,1252.36 1899.49,1252.11 1900,1253.25 1900.52,1255.7 1901.04,1256.46 1901.56,1256.75 1902.08,1259.19 1902.59,1259 1903.1,1261.79 1903.79,1263 1904.48,1264.56 1905.17,1265.44 1905.85,1265.99 1906.53,1267.26 1907.22,1268.36 1907.91,1270.65 1908.6,1269.81 1909.38,1272.95 1910.15,1272.05 1910.92,1273.61 1911.7,1274.84 1912.5,1277.43 1913.33,1277.5 1914.2,1278.21 1915.11,1280.39 1916.04,1279.76 1916.99,1281.2 1917.98,1282.24 1918.99,1283.63 1920.03,1284.47 1921.1,1285.05 1922.21,1285.17 1923.37,1285.93 1924.55,1286.32 1925.76,1288.76 1926.98,1289.11 1928.2,1290.09 1929.4,1289.51 1930.61,1290.93 1931.84,1292.49 1933.07,1292.78 1934.3,1292.45 1935.51,1294.03 1936.68,1295.86 1937.8,1295.17 1938.85,1296.01 1939.84,1297.32 1940.78,1299.37 1941.72,1300.79 1942.66,1300.18 1943.65,1301.14 1944.7,1302.19 1946.01,1303.2 1947.39,1304.36 1948.81,1304.09 1950.25,1305.01 1951.69,1305.14 1953.1,1307.44 1954.49,1307.16 1955.87,1305.83 1957.26,1308.02 1958.64,1306.08 1960.02,1306.96 1961.4,1308.76 1962.61,1308.73 1963.85,1309.05 1965.1,1308.86 1966.33,1308.88 1967.53,1310.6 1968.66,1310.05 1969.7,1311.1 1970.63,1312.44 1971.46,1312.6 1972.22,1314.57 1972.95,1316.66 1973.68,1317.59 1974.46,1318.28 1975.3,1319.72 1976.21,1320.44 1977.15,1320.86 1978.12,1323.16 1979.12,1323.86 1980.13,1325.78 1981.16,1327.2 1982.2,1326.93 1983.53,1328.14 1984.99,1329.31 1986.48,1329.14 1987.87,1329.2 1989.05,1330.8 1989.9,1331.51" fill="none" stroke="#000" stroke-width="3.9" stroke-linejoin="miter" stroke-miterlimit="3" stroke-linecap="butt"/>
<text x="1161.9" y="1383.7" font-size="28" text-anchor="middle">20</text>
<text x="1299.05" y="1383.7" font-size="28" text-anchor="middle">30</text>
<text x="1436.2" y="1383.7" font-size="28" text-anchor="middle">40</text>
<text x="1573.35" y="1383.7" font-size="28" text-anchor="middle">50</text>
<text x="1710.5" y="1383.7" font-size="28" text-anchor="middle">60</text>
<text x="1847.65" y="1383.7" font-size="28" text-anchor="middle">70</text>
<text x="1984.8" y="1383.7" font-size="28" text-anchor="middle">80</text>
<text x="1580" y="1426.4" font-size="28" text-anchor="middle">Minutes</text>
<text x="1010.3" y="1064.1" font-size="27.3" text-anchor="middle" transform="rotate(-90 1010.3 1064.1)">Triglycerides</text>
<text x="1043.9" y="1064.6" font-size="27.3" text-anchor="middle" transform="rotate(-90 1043.9 1064.6)">absorbance [a. U.]</text>
<line x1="1223.8" y1="806.4" x2="1258.2" y2="806.4" stroke="#000" stroke-width="3.2" stroke-linecap="butt"/>
<text x="1267.7" y="815.7" font-size="27.5" text-anchor="start">Ctrl</text>
<line x1="1223.8" y1="851.3" x2="1258.2" y2="851.3" stroke="#1994f4" stroke-width="3.2" stroke-linecap="butt"/>
<text x="1269.8" y="860.5" font-size="27.4" text-anchor="start"><tspan font-style="italic">Spring</tspan><tspan font-size="16" dy="-8.9" dx="-1.7" letter-spacing="0.2">LKO</tspan></text>
<text x="1313.3" y="1130.6" font-size="28" text-anchor="middle">VLDL</text>
<text x="1468.5" y="1130.6" font-size="28" text-anchor="middle">LDL</text>
<text x="1672.5" y="1130.6" font-size="28" text-anchor="middle">HDL</text>
<text x="1846.4" y="823.7" font-size="28" text-anchor="middle">free</text>
<text x="1846.2" y="857.6" font-size="28" text-anchor="middle">glycerol</text>
</svg>
</body>
</html>
